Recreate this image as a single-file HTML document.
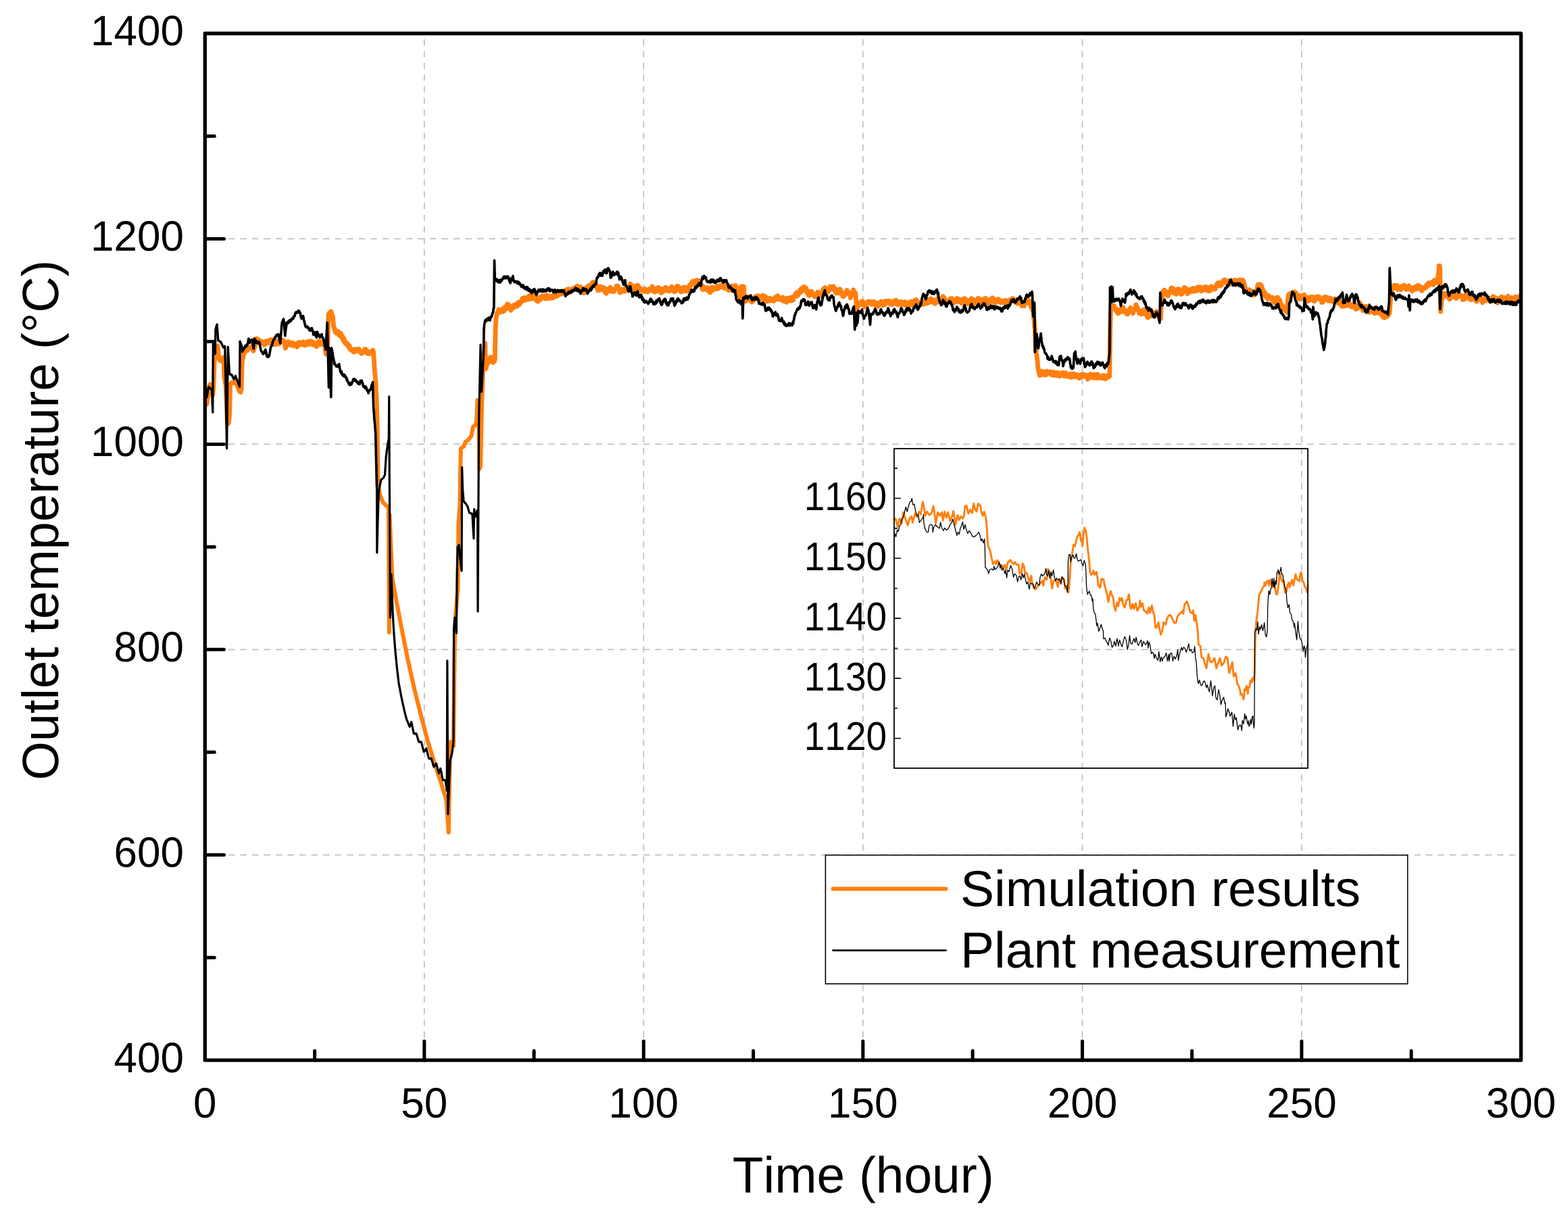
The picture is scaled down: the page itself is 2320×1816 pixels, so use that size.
<!DOCTYPE html>
<html lang="en"><head><meta charset="utf-8"><title>Outlet temperature: simulation results vs plant measurement</title>
<style>html,body{margin:0;padding:0;background:#fff}body{width:2320px;height:1816px;overflow:hidden}svg{display:block}</style>
</head><body>
<svg width="2320" height="1816" viewBox="0 0 2320 1816" font-family="'Liberation Sans', Arial, sans-serif" style="font-kerning:none" text-rendering="geometricPrecision">
<rect width="2320" height="1816" fill="#fff"/>
<path d="M627.8 1569.5V49.5M952.3 1569.5V49.5M1276.8 1569.5V49.5M1601.4 1569.5V49.5M1925.9 1569.5V49.5" fill="none" stroke="#bfbfbf" stroke-width="1.7" stroke-dasharray="8.15 9.119" stroke-linecap="round"/>
<path d="M303.3 1265.3H2250.4M303.3 961.3H2250.4M303.3 657.4H2250.4M303.3 353.4H2250.4" fill="none" stroke="#bfbfbf" stroke-width="1.7" stroke-dasharray="8.15 9.395" stroke-linecap="round"/>
<clipPath id="plotclip"><rect x="303.3" y="49.5" width="1947.1" height="1519.7"/></clipPath>
<g clip-path="url(#plotclip)"><path d="M303.7 599.1L304.2 598.0L304.7 599.5L305.1 599.0L305.6 597.6L306.1 598.0L306.7 594.2L307.2 591.1L307.8 587.8L308.4 582.5L308.9 577.9L309.5 575.4L310.0 570.0L310.6 570.6L311.1 568.6L311.7 569.5L312.2 572.5L312.8 573.8L313.4 577.9L313.9 580.8L314.5 581.6L315.0 584.6L315.6 578.0L316.1 571.2L317.3 536.8L317.8 532.5L318.4 528.1L318.9 524.6L319.5 519.6L320.0 516.1L320.6 515.5L321.1 514.5L321.7 512.8L322.3 511.6L322.8 517.2L323.4 523.3L323.9 527.4L324.5 531.2L325.0 533.3L325.6 532.9L326.2 533.3L326.7 532.4L327.3 534.6L327.8 533.4L328.4 530.7L328.9 530.2L329.5 530.2L330.1 529.3L330.6 528.9L331.7 559.0L332.3 561.6L332.8 565.4L333.4 567.8L333.9 569.7L335.3 603.5L336.2 628.0L336.7 627.7L337.3 627.8L337.8 627.2L338.4 625.8L338.9 622.3L339.4 617.2L339.8 614.0L340.8 567.9L341.4 568.4L341.9 567.2L342.4 566.3L343.0 566.9L343.5 567.0L344.0 566.7L344.5 565.7L345.1 565.5L345.6 565.9L346.2 566.6L346.7 566.2L347.3 566.0L347.9 566.4L348.4 565.4L349.0 565.6L349.5 567.3L350.1 569.4L350.6 570.0L351.2 571.0L351.7 571.9L352.3 574.2L352.9 576.9L353.4 577.3L354.0 577.8L354.5 579.5L355.1 578.2" fill="none" stroke="#ff7f0e" stroke-width="6.4" stroke-linejoin="round" stroke-linecap="round"/>
<path d="M355.1 578.2L355.6 579.0L356.1 580.6L356.6 577.9L357.1 576.6L358.2 536.8L358.8 531.9L359.3 529.8L359.9 528.3L360.4 519.7L361.0 523.0L361.6 522.5L362.2 522.1L362.8 520.6L363.4 520.2L364.0 517.9L364.5 517.9L365.1 516.9L365.7 514.7L366.2 518.7L366.8 516.8L367.3 514.6L367.9 515.9L368.4 515.5L369.0 514.6L369.6 514.3L370.1 515.0L370.7 515.2L371.2 515.5L371.8 515.1L372.3 513.3L372.9 514.8L373.4 514.9L374.0 517.5L374.6 519.3L375.1 519.4L375.7 517.6L376.2 515.9L376.8 511.1L377.3 512.4L377.9 509.7L378.5 504.8L379.0 502.7L379.6 500.9L380.1 505.0L380.7 502.6L381.2 502.2L381.8 505.1L382.3 504.0L382.9 502.8L383.5 503.6L384.0 505.7L384.6 504.2L385.1 505.1L385.7 507.7L386.2 506.7L386.8 506.4L387.4 507.5L387.9 505.5L388.5 507.7L389.0 508.2L389.6 507.3L390.1 506.7L390.7 510.6L391.3 508.3L391.8 506.5L392.4 508.4L392.9 509.3L393.5 504.9L394.0 504.7L394.6 505.1L395.1 507.9L395.7 504.7L396.3 507.2L396.8 506.8L397.4 505.8L397.9 503.9L398.5 507.5L399.0 506.3L399.6 504.6L400.2 502.8L400.7 504.7L401.3 503.1L401.8 503.8L402.4 503.0L402.9 505.2L403.5 502.8L404.0 504.6L404.6 508.6L405.2 508.7L405.7 506.3L406.3 509.7L406.8 506.7L407.4 509.9L407.9 508.8L408.5 507.0L409.1 506.0L409.6 504.6L410.2 509.0L410.7 504.5L411.3 508.5L411.8 509.1L412.4 506.8L412.9 504.5L413.5 507.8L414.1 508.1L414.6 506.4L415.2 505.1L415.7 504.1L416.3 503.7L416.8 503.2L417.4 506.0L418.0 505.0L418.5 504.0L419.1 503.8L419.6 507.0L420.2 505.4L420.7 506.7L421.3 508.0L421.8 513.1L422.4 515.5L423.0 513.1L423.5 511.8L424.1 510.3L424.6 511.5L425.2 508.2L425.7 506.1L426.3 505.6L426.9 508.2L427.4 509.2L428.0 509.9L428.5 507.0L429.1 510.0L429.6 509.2L430.2 508.3L430.8 511.1L431.3 507.4L431.9 510.1L432.5 507.0L433.1 507.6L433.7 511.6L434.3 508.1L434.9 511.1L435.5 510.5L436.1 511.9L436.7 509.6L437.3 509.7L437.9 509.6L438.5 512.7L439.1 511.5L439.7 513.5L440.1 512.5L440.5 507.9L440.9 509.4L441.4 506.9L442.0 506.5L442.6 506.5L443.2 510.5L443.8 510.0L444.4 510.1L445.0 507.5L445.5 508.8L446.1 509.5L446.7 507.3L447.3 508.4L447.9 506.7L448.5 506.1L449.1 507.2L449.6 510.6L450.2 509.0L450.8 511.0L451.4 508.7L452.0 507.8L452.6 510.6L453.2 510.6L453.7 506.1L454.3 509.3L454.9 506.0L455.5 505.9L456.1 509.7L456.7 505.1L457.3 505.9L457.8 509.5L458.4 506.4L459.0 504.9L459.6 505.3L460.2 505.8L460.8 508.5L461.4 505.3L461.9 509.6L462.5 507.0L463.1 510.1L463.7 509.9L464.3 506.9L464.9 507.2L465.5 509.0L466.0 507.6L466.6 511.1L467.2 508.5L467.8 508.9L468.4 513.1L469.0 508.6L469.6 509.3L470.1 507.7L470.7 506.8L471.3 505.4L471.9 509.7L472.5 509.9L473.1 509.8L473.7 505.2L474.2 505.6L474.8 507.6L475.4 509.4L476.0 507.0L476.6 508.2L477.2 508.6L477.8 507.0L478.3 509.0L478.9 508.3L479.5 508.5L480.1 508.1L480.7 512.4L481.3 519.2L481.9 519.7L482.4 524.0L483.0 520.7L483.6 519.0L484.2 512.9L484.8 509.3L486.0 465.8L486.5 464.2L487.1 463.5L487.7 465.6L488.3 465.1L488.9 461.4L489.5 460.9L490.1 461.3L490.6 463.8L491.2 466.3L491.8 466.8L492.4 468.0L493.0 476.1L493.6 482.3L494.2 486.2L494.7 485.2L495.3 486.7L495.9 491.1L496.5 489.6L497.1 492.5L497.7 491.2L498.3 493.4L498.8 490.0L499.4 492.1L500.0 493.9L500.6 490.5L501.2 495.5L501.8 491.9L502.3 495.5L502.9 497.0L503.5 496.6L504.1 494.4L504.7 493.7L505.3 496.3L505.9 499.6L506.4 497.5L507.0 501.8L507.6 499.0L508.2 504.2L508.8 500.8L509.4 503.1L510.0 506.9L510.5 507.2L511.1 508.5L511.7 508.9L512.3 509.2L512.9 509.7L513.5 507.8L514.1 509.9L514.6 509.3L515.2 513.0L515.8 513.5L516.4 511.9L517.0 511.5L517.6 516.8L518.2 516.6L518.7 515.8L519.3 516.3L519.9 518.5L520.5 517.1L521.1 517.3L521.7 517.6L522.3 517.8L522.8 517.2L523.4 521.0L524.0 520.4L524.6 520.7L525.2 517.7L525.8 518.7L526.4 517.2L526.9 516.7L527.5 516.9L528.1 519.5L528.7 516.8L529.3 517.2L529.9 518.8L530.5 517.2L531.0 516.5L531.6 519.7L532.2 519.9L532.8 521.2L533.4 520.5L534.0 522.4L534.6 523.2L535.1 521.2L535.7 523.1L536.3 522.1L536.9 519.8L537.5 519.8L538.1 519.6L538.7 520.4L539.2 519.5L539.8 516.7L540.4 519.2L541.0 516.7L541.6 517.4L542.2 520.3L542.8 522.8L543.3 519.2L543.9 522.5L544.5 523.3L545.1 520.4L545.7 522.6L546.3 523.5L546.9 521.2L547.4 523.0L548.0 522.9L548.6 521.9L549.2 523.0L549.8 522.9L550.4 522.9L551.0 520.6L551.5 518.3L552.1 518.4L552.6 522.9L553.1 529.4L553.5 535.0L554.5 551.3L554.9 553.3L555.4 561.0L555.9 565.6L556.3 568.8" fill="none" stroke="#ff7f0e" stroke-width="6.8" stroke-linejoin="round" stroke-linecap="round"/>
<path d="M556.3 568.8L557.3 586.4L558.2 615.7L558.7 640.1L559.4 718.0L559.9 720.7L560.5 723.3L561.0 726.0L561.5 728.7L562.1 731.3L562.6 734.0L563.2 735.4L563.8 736.7L564.4 738.1L564.9 739.5L565.5 740.9L566.1 742.2L566.7 743.6L567.3 744.1L567.8 744.7L568.4 745.2L568.9 745.8L569.5 746.3L570.1 746.8L570.6 747.4L571.2 747.9L571.7 748.5L572.3 749.0L572.8 749.3L573.4 749.6L573.9 750.0L574.5 750.3L575.0 750.6L575.8 936.0L576.6 762.0L578.0 800.0L580.4 855.0L581.0 858.1L581.5 861.2L582.1 864.3L582.6 867.4L583.2 870.5L583.7 873.7L584.3 876.8L584.8 879.9L585.4 883.0L585.9 886.1L586.5 889.2L587.1 892.2L587.6 895.2L588.2 898.3L588.8 901.3L589.3 904.3L589.9 907.3L590.5 910.4L591.1 913.4L591.6 916.4L592.2 919.4L592.8 922.5L593.3 925.5L593.9 928.5L594.5 931.4L595.1 934.3L595.6 937.2L596.2 940.1L596.8 943.0L597.4 945.9L597.9 948.8L598.5 951.7L599.1 954.5L599.7 957.4L600.2 960.3L600.8 963.2L601.4 966.1L602.0 969.0L602.5 971.9L603.1 974.8L603.7 977.7L604.3 980.3L604.9 982.9L605.4 985.5L606.0 988.1L606.6 990.7L607.2 993.3L607.8 995.9L608.4 998.5L608.9 1001.1L609.5 1003.7L610.1 1006.3L610.7 1008.9L611.3 1011.5L611.9 1014.1L612.4 1016.7L613.0 1019.3L613.6 1021.9L614.2 1024.2L614.8 1026.5L615.3 1028.8L615.9 1031.1L616.5 1033.5L617.1 1035.8L617.6 1038.1L618.2 1040.4L618.8 1042.7L619.4 1045.0L619.9 1047.3L620.5 1049.6L621.1 1052.0L621.7 1054.3L622.2 1056.6L622.8 1058.9L623.4 1061.2L624.0 1063.4L624.6 1065.5L625.1 1067.7L625.7 1069.9L626.3 1072.1L626.9 1074.2L627.4 1076.4L628.0 1078.6L628.6 1080.7L629.2 1082.9L629.7 1085.1L630.3 1087.2L630.9 1089.4L631.5 1091.6L632.0 1093.8L632.6 1095.9L633.2 1098.1L633.8 1100.0L634.4 1101.9L634.9 1103.7L635.5 1105.6L636.1 1107.5L636.7 1109.4L637.3 1111.3L637.9 1113.2L638.4 1115.0L639.0 1116.9L639.6 1118.8L640.2 1120.7L640.8 1122.6L641.4 1124.5L641.9 1126.3L642.5 1128.2L643.1 1130.1L643.7 1131.8L644.3 1133.6L644.8 1135.3L645.4 1137.0L646.0 1138.8L646.6 1140.5L647.1 1142.2L647.7 1144.0L648.3 1145.7L648.9 1147.5L649.4 1149.2L650.0 1150.9L650.6 1152.7L651.2 1154.4L651.7 1156.1L652.3 1157.9L652.9 1159.6L653.5 1161.5L654.0 1163.4L654.6 1165.3L655.2 1167.1L655.7 1169.0L656.3 1170.9L656.9 1172.8L657.5 1174.7L658.0 1176.6L658.6 1178.4L659.2 1180.3L659.7 1182.2L660.3 1184.1L660.9 1192.1L661.5 1200.1L662.0 1208.0L662.6 1216.0L663.2 1224.0L663.8 1232.0L665.2 1150.0L666.9 1098.0L667.5 1098.9L668.1 1099.7L668.7 1100.6L669.2 1101.4L669.8 1102.3L670.4 1103.1L671.0 1104.0L672.0 1010.0L672.6 963.0L673.8 913.7L674.3 907.5L674.9 901.2L675.4 895.0L675.9 888.7L676.4 882.5L677.0 876.2L677.5 870.0L678.4 774.5L678.9 767.5L679.5 760.5L680.0 753.4L680.5 746.4L681.2 690.0L681.9 663.6L682.4 663.2L683.0 662.9L683.5 662.5L684.0 662.2L684.5 661.8L685.0 661.4L685.6 661.1L686.1 660.7L686.7 659.3L687.2 657.9L687.8 656.5L688.3 655.1L688.9 653.7L689.4 653.4L690.0 653.0L690.5 652.6L691.0 652.3L691.5 652.0L692.0 651.6L692.6 651.2L693.1 650.9L693.7 650.1L694.3 649.3L694.9 648.5L695.5 647.7L696.1 646.9L696.7 646.1L697.3 645.3L697.9 642.5L698.5 639.7L699.0 636.8L699.6 634.0L700.2 631.2L700.8 630.9L701.3 630.6L701.9 630.4L702.4 630.1L703.0 629.8L703.5 628.6L704.0 627.4L704.5 626.2L705.0 625.0L706.5 592.0L707.0 594.7L707.5 597.3L708.0 600.0L709.5 694.0L710.0 692.7L710.5 691.3L711.0 690.0L713.0 600.0L715.5 532.0" fill="none" stroke="#ff7f0e" stroke-width="6.0" stroke-linejoin="round" stroke-linecap="round"/>
<path d="M715.5 532.0L716.1 528.2L716.6 519.5L717.2 518.6L717.8 508.2L718.6 546.0L719.1 542.4L719.7 543.9L720.2 538.8L720.8 539.2L721.3 536.2L721.9 536.6L722.4 537.2L722.9 537.0L723.5 531.3L724.0 530.7L724.6 534.6L725.1 529.3L725.7 530.0L726.2 528.5L726.8 529.0L727.3 529.2L727.8 533.4L728.4 534.7L728.9 535.0L729.5 536.6L730.0 536.2L730.6 533.5L731.2 533.7L731.7 534.6L732.3 531.5L733.1 486.5L733.6 478.0L734.1 469.8L734.6 467.8L735.1 465.0L735.6 462.8L736.1 463.6L736.6 462.5L737.1 461.6L737.6 458.1L738.2 459.7L738.7 459.9L739.3 458.5L739.8 462.3L740.4 459.5L740.9 460.8L741.5 460.9L742.1 461.0L742.6 460.7L743.2 460.7L743.7 457.7L744.3 461.5L744.9 456.4L745.4 460.4L746.0 459.7L746.6 459.3L747.1 454.3L747.7 454.1L748.3 457.9L748.8 455.2L749.3 453.8L749.8 456.6L750.3 450.4L750.8 452.5L751.3 451.2L751.9 450.1L752.5 452.5L753.0 455.0L753.6 456.8L754.2 452.6L754.7 456.2L755.3 454.5L755.9 459.4L756.5 454.7L757.0 453.8L757.6 455.2L758.2 456.7L758.7 453.7L759.3 452.1L759.9 455.3L760.5 454.8L761.0 454.8L761.6 451.4L762.1 451.8L762.7 450.5L763.2 452.0L763.8 450.4L764.3 450.2L764.9 452.5L765.4 453.2L766.0 450.8L766.5 447.7L767.1 450.3L767.7 448.6L768.2 451.2L768.8 449.1L769.3 449.2L769.9 447.9L770.4 446.3L771.0 447.9L771.5 447.0L772.1 443.3L772.6 441.9L773.2 443.0L773.7 443.8L774.3 441.2L774.8 442.5L775.4 443.7L776.0 440.4L776.5 444.8L777.1 443.7L777.6 441.6L778.2 441.4L778.7 441.6L779.3 441.1L779.8 443.3L780.4 441.6L780.9 441.4L781.5 439.0L782.0 443.1L782.6 439.5L783.1 439.2L783.7 437.4L784.3 442.4L784.8 439.2L785.4 441.8L785.9 441.8L786.5 442.1L787.0 441.2L787.6 441.8L788.1 441.8L788.7 441.1L789.2 437.2L789.8 439.5L790.3 439.8L790.9 442.2L791.5 441.6L792.0 441.7L792.6 442.5L793.2 440.8L793.8 444.8L794.3 443.6L794.9 442.8L795.5 443.7L796.0 446.3L796.6 443.4L797.2 440.9L797.7 440.4L798.3 443.1L798.9 442.0L799.5 443.6L800.0 439.1L800.6 440.3L801.1 442.1L801.7 438.1L802.2 438.3L802.8 440.8L803.4 439.1L803.9 438.1L804.5 438.9L805.0 441.0L805.6 440.3L806.1 437.7L806.7 437.6L807.2 442.0L807.8 440.7L808.3 438.0L808.9 441.9L809.4 436.9L810.0 438.9L810.5 441.6L811.1 440.7L811.7 438.2L812.2 441.6L812.8 439.8L813.4 441.2L814.0 441.3L814.5 438.5L815.1 439.8L815.7 438.9L816.3 441.1L816.9 440.2L817.5 439.6L818.1 440.0L818.6 441.0L819.2 436.5L819.8 436.1L820.4 439.0L821.0 438.9L821.6 437.2L822.2 436.8L822.7 436.1L823.3 438.7L823.9 437.9L824.5 436.5L825.1 433.1L825.7 437.5L826.3 435.0L826.8 433.2L827.4 433.6L828.0 435.6L828.6 431.2L829.2 431.5L829.8 432.2L830.4 435.3L830.9 434.1L831.5 435.1L832.1 432.2L832.7 432.1L833.3 431.6L833.9 431.1L834.5 430.8L835.0 432.1L835.6 432.8L836.2 429.6L836.8 430.8L837.4 428.9L838.0 428.8L838.6 429.9L839.1 430.3L839.7 430.0L840.3 432.5L840.9 427.7L841.5 430.4L842.1 432.4L842.6 430.8L843.2 429.6L843.8 428.2L844.4 428.2L845.0 431.1L845.6 430.6L846.2 429.0L846.7 430.1L847.3 430.1L847.9 429.4L848.5 426.4L849.1 426.7L849.7 428.4L850.3 425.7L850.8 427.8L851.4 426.2L852.0 425.3L852.6 426.0L853.1 424.0L853.7 425.3L854.3 425.6L854.8 423.3L855.4 424.1L856.0 424.6L856.6 428.0L857.1 426.4L857.7 424.6L858.3 428.7L858.9 424.3L859.4 425.8L860.0 427.1L860.5 427.5L861.1 426.8L861.6 429.5L862.2 428.6L862.7 430.7L863.2 430.1L863.8 433.6L864.3 432.9L864.9 428.7L865.4 428.3L866.0 432.5L866.5 427.6L867.1 425.8L867.6 426.6L868.2 427.3L868.7 429.4L869.3 425.6L869.8 427.1L870.4 427.4L870.9 422.7L871.5 425.3L872.0 427.2L872.6 424.2L873.1 423.8L873.7 422.3L874.2 425.4L874.8 425.1L875.3 419.6L875.9 421.7L876.4 420.4L877.0 421.4L877.5 417.7L878.1 418.1L878.6 417.6L879.2 418.3L879.7 421.1L880.3 422.4L880.8 422.9L881.4 423.2L881.9 420.8L882.5 423.5L883.0 426.0L883.6 424.7L884.1 426.7L884.7 429.9L885.2 426.1L885.8 429.9L886.3 425.0L886.9 426.0L887.4 428.5L888.0 423.9L888.5 425.2L889.1 424.8L889.6 427.8L890.2 428.7L890.7 424.9L891.3 426.4L891.8 429.0L892.4 427.2L892.9 425.6L893.5 429.3L894.0 427.4L894.6 428.8L895.1 426.6L895.7 432.8L896.2 431.5L896.8 433.6L897.3 434.4L897.9 429.9L898.4 431.0L899.0 430.0L899.5 431.4L900.1 431.4L900.6 427.4L901.2 427.3L901.7 429.3L902.3 427.2L902.8 425.1L903.4 425.9L903.9 428.5L904.5 429.1L905.0 431.6L905.6 429.6L906.1 430.5L906.7 428.2L907.2 430.2L907.8 429.8L908.4 431.5L908.9 428.3L909.5 427.3L910.0 427.5L910.6 427.4L911.1 425.9L911.7 426.7L912.2 423.5L912.8 426.9L913.3 425.1L913.9 425.1L914.4 423.3L915.0 425.9L915.5 429.0L916.1 429.7L916.6 431.6L917.2 433.1L917.7 430.7L918.3 432.7L918.8 431.4L919.4 429.8L919.9 429.4L920.5 429.7L921.0 428.3L921.6 430.5L922.1 431.0L922.7 429.8L923.2 430.4L923.8 427.6L924.3 427.4L924.9 429.4L925.4 431.1L926.0 428.3L926.5 425.8L927.1 425.8L927.6 427.3L928.2 429.0L928.7 425.3L929.3 425.4L929.8 427.3L930.4 428.4L930.9 424.0L931.5 424.8L932.0 423.6L932.6 420.1L933.1 422.3L933.7 421.6L934.2 422.7L934.8 426.2L935.3 426.1L935.9 422.8L936.4 423.5L937.0 427.7L937.5 424.5L938.1 426.2L938.6 425.5L939.2 423.9L939.7 423.4L940.3 423.6L940.8 424.7L941.4 427.5L941.9 425.4L942.5 422.7L943.0 424.8L943.6 422.1L944.1 424.0L944.7 423.4L945.2 427.5L945.8 424.5L946.3 427.6L946.9 427.2L947.4 428.9L948.0 428.0L948.5 430.0L949.1 427.8L949.6 429.5L950.2 429.3L950.7 428.9L951.3 429.3L951.8 429.2L952.4 428.6L952.9 431.6L953.5 430.2L954.0 430.0L954.6 427.5L955.1 430.4L955.7 428.8L956.2 429.3L956.8 430.9L957.3 431.9L957.9 430.5L958.4 430.9L959.0 431.8L959.5 430.9L960.1 430.0L960.6 427.7L961.2 428.7L961.7 429.8L962.3 428.6L962.8 428.1L963.4 429.2L963.9 428.0L964.5 427.2L965.1 424.0L965.6 426.1L966.2 428.9L966.7 426.4L967.3 431.3L967.8 427.4L968.4 432.2L968.9 428.9L969.5 432.2L970.0 431.9L970.6 428.6L971.1 431.5L971.7 426.9L972.2 430.6L972.8 427.6L973.3 427.6L973.9 425.4L974.4 427.8L975.0 426.5L975.5 429.3L976.1 430.6L976.6 430.1L977.2 427.1L977.7 433.2L978.3 433.5L978.8 432.5L979.4 430.4L979.9 430.9L980.5 432.2L981.0 429.2L981.6 430.5L982.1 428.9L982.7 427.3L983.2 429.8L983.8 426.2L984.3 427.8L984.9 425.1L985.4 428.0L986.0 426.0L986.5 430.3L987.1 426.7L987.6 427.5L988.2 428.4L988.7 429.0L989.3 430.4L989.8 428.8L990.4 427.5L990.9 430.9L991.5 429.7L992.0 427.5L992.6 427.6L993.1 426.9L993.7 424.1L994.2 427.9L994.8 425.2L995.3 427.6L995.9 427.0L996.4 426.4L997.0 430.5L997.5 431.9L998.1 428.9L998.6 431.6L999.2 427.9L999.7 429.1L1000.3 430.4L1000.8 428.5L1001.4 423.8L1001.9 425.3L1002.5 424.4L1003.0 423.3L1003.6 427.0L1004.1 425.5L1004.7 427.7L1005.2 428.0L1005.8 428.0L1006.3 426.0L1006.9 430.2L1007.4 432.1L1008.0 428.7L1008.5 431.0L1009.1 429.6L1009.6 428.3L1010.2 430.1L1010.7 431.2L1011.3 425.2L1011.8 429.9L1012.4 426.5L1012.9 428.6L1013.5 425.2L1014.0 428.6L1014.6 425.4L1015.1 427.1L1015.7 431.1L1016.2 429.7L1016.8 430.8L1017.3 429.2L1017.9 428.2L1018.4 427.2L1019.0 427.7L1019.5 426.3L1020.1 422.2L1020.6 422.5L1021.2 422.0L1021.7 421.1L1022.3 422.8L1022.9 422.1L1023.4 417.8L1024.0 418.8L1024.5 417.0L1025.1 416.2L1025.6 416.2L1026.2 416.6L1026.7 419.9L1027.3 419.2L1027.8 419.8L1028.4 416.8L1028.9 415.9L1029.5 420.5L1030.0 419.6L1030.6 420.2L1031.1 414.7L1031.7 416.7L1032.2 418.3L1032.8 419.0L1033.3 420.1L1033.9 418.1L1034.4 417.4L1035.0 415.3L1035.5 420.1L1036.1 421.2L1036.6 422.1L1037.2 422.0L1037.7 421.4L1038.3 422.1L1038.8 426.5L1039.4 428.7L1039.9 428.7L1040.5 424.0L1041.0 426.3L1041.6 425.8L1042.1 425.2L1042.7 427.2L1043.2 427.9L1043.8 426.6L1044.3 426.3L1044.9 426.2L1045.4 426.7L1046.0 426.7L1046.5 425.8L1047.1 429.6L1047.6 426.5L1048.2 430.3L1048.7 429.5L1049.3 431.3L1049.8 432.5L1050.4 430.7L1050.9 432.9L1051.5 427.8L1052.0 425.7L1052.6 430.4L1053.1 425.8L1053.7 424.9L1054.2 425.8L1054.8 426.9L1055.3 429.3L1055.9 427.8L1056.4 425.6L1057.0 427.0L1057.5 426.6L1058.1 427.0L1058.6 426.7L1059.2 425.3L1059.7 426.3L1060.3 425.9L1060.8 424.5L1061.4 427.8L1061.9 424.8L1062.5 423.2L1063.0 425.3L1063.6 426.6L1064.1 425.9L1064.7 424.7L1065.2 425.4L1065.8 423.2L1066.3 422.2L1066.9 423.0L1067.4 423.6L1068.0 423.3L1068.5 424.5L1069.1 422.8L1069.6 422.8L1070.2 423.6L1070.7 423.1L1071.3 426.5L1071.8 424.9L1072.4 422.7L1072.9 423.9L1073.5 426.4L1074.0 424.5L1074.6 424.3L1075.1 424.0L1075.7 423.6L1076.2 426.7L1076.8 424.2L1077.3 429.0L1077.9 425.5L1078.4 430.2L1079.0 428.8L1079.5 428.9L1080.0 426.7L1080.6 423.8L1081.1 426.0L1081.7 423.1L1082.2 423.9L1082.8 424.5L1083.3 423.8L1083.9 425.9L1084.4 427.7L1085.0 424.0L1085.5 426.7L1086.1 423.1L1086.6 425.8L1087.2 423.7L1087.7 424.7L1088.3 422.6L1088.8 427.3L1089.4 424.2L1089.9 426.1L1090.5 425.6L1091.0 429.0L1091.6 430.5L1092.1 433.4L1092.7 437.0L1093.2 436.8L1093.8 435.7L1094.3 440.2L1094.9 437.2L1095.4 440.1L1096.0 440.9L1096.5 433.0L1097.1 423.8L1097.6 428.2L1098.2 426.9L1098.7 424.7L1099.3 424.5L1099.8 426.2L1100.4 424.0L1100.9 433.3L1101.5 436.9L1102.0 442.3L1102.6 441.4L1103.1 446.2L1103.7 441.4L1104.2 444.5L1104.8 441.5L1105.3 439.8L1105.9 440.2L1106.4 440.4L1107.0 443.4L1107.5 440.9L1108.1 441.8L1108.6 442.9L1109.2 441.2L1109.7 443.7L1110.3 444.2L1110.8 446.0L1111.4 443.9L1111.9 446.3L1112.5 447.2L1113.0 446.4L1113.6 444.0L1114.1 442.7L1114.7 441.3L1115.2 445.1L1115.8 440.7L1116.3 442.7L1116.9 441.7L1117.4 438.9L1118.0 439.4L1118.5 442.3L1119.1 440.1L1119.6 441.8L1120.2 442.0L1120.7 437.6L1121.3 441.2L1121.8 437.8L1122.4 440.3L1122.9 440.7L1123.5 443.9L1124.0 442.1L1124.6 439.5L1125.1 441.1L1125.7 440.9L1126.2 438.7L1126.8 439.4L1127.3 442.1L1127.9 442.4L1128.4 441.0L1129.0 437.0L1129.5 442.1L1130.1 439.7L1130.6 442.0L1131.2 438.4L1131.7 438.4L1132.3 443.4L1132.8 440.3L1133.4 439.5L1133.9 442.7L1134.5 446.1L1135.0 445.7L1135.6 442.9L1136.1 446.1L1136.7 444.7L1137.2 444.6L1137.8 443.2L1138.4 441.5L1138.9 444.2L1139.5 441.4L1140.0 444.5L1140.6 442.7L1141.1 445.2L1141.7 443.1L1142.2 443.2L1142.8 444.6L1143.3 443.4L1143.9 442.8L1144.4 444.7L1145.0 445.5L1145.5 441.5L1146.1 444.2L1146.6 443.1L1147.2 442.3L1147.7 439.6L1148.3 442.3L1148.8 441.3L1149.4 440.3L1149.9 437.9L1150.5 440.9L1151.0 437.9L1151.6 443.3L1152.1 440.3L1152.7 440.8L1153.2 442.0L1153.8 442.6L1154.3 442.4L1154.9 441.9L1155.4 442.9L1156.0 444.2L1156.5 442.0L1157.1 442.4L1157.6 444.4L1158.2 439.8L1158.7 441.0L1159.3 442.2L1159.8 441.8L1160.4 446.1L1160.9 442.0L1161.5 442.0L1162.0 443.5L1162.6 444.9L1163.1 446.5L1163.7 447.3L1164.2 446.2L1164.8 444.6L1165.3 441.1L1165.9 441.0L1166.4 444.1L1167.0 445.0L1167.5 441.5L1168.1 445.4L1168.6 443.0L1169.2 443.1L1169.7 443.4L1170.3 440.2L1170.8 440.8L1171.4 445.2L1171.9 441.3L1172.5 440.2L1173.0 441.4L1173.6 444.0L1174.1 440.2L1174.7 438.8L1175.2 438.1L1175.8 438.1L1176.3 438.5L1176.9 434.9L1177.4 438.1L1178.0 438.5L1178.5 437.5L1179.1 433.0L1179.6 434.3L1180.2 437.7L1180.7 437.2L1181.3 432.8L1181.8 433.9L1182.4 432.8L1182.9 434.3L1183.5 429.5L1184.0 430.4L1184.6 432.3L1185.1 432.4L1185.7 426.8L1186.2 429.4L1186.8 429.3L1187.3 430.0L1187.9 426.8L1188.4 429.4L1189.0 424.4L1189.5 424.3L1190.1 424.8L1190.6 427.9L1191.2 425.6L1191.7 426.9L1192.3 426.9L1192.8 426.5L1193.4 432.1L1193.9 429.4L1194.5 434.0L1195.1 433.5L1195.6 431.5L1196.2 436.5L1196.7 432.1L1197.3 437.6L1197.8 432.0L1198.4 433.1L1198.9 434.7L1199.5 431.4L1200.0 435.7L1200.6 431.6L1201.1 435.7L1201.7 431.7L1202.2 435.1L1202.8 433.8L1203.3 434.8L1203.9 436.6L1204.4 436.4L1205.0 437.1L1205.5 439.1L1206.1 436.1L1206.6 435.6L1207.2 438.1L1207.7 435.4L1208.3 438.7L1208.8 435.4L1209.4 435.2L1209.9 432.2L1210.5 432.5L1211.0 433.2L1211.6 436.5L1212.1 437.0L1212.7 439.0L1213.2 436.2L1213.8 438.1L1214.3 436.3L1214.9 433.2L1215.4 433.8L1216.0 433.9L1216.5 433.1L1217.1 432.4L1217.6 430.3L1218.2 428.2L1218.7 427.5L1219.3 426.7L1219.8 426.0L1220.4 426.6L1220.9 425.5L1221.5 428.2L1222.0 427.0L1222.6 428.2L1223.1 431.4L1223.7 431.6L1224.2 431.8L1224.8 431.3L1225.3 432.1L1225.9 430.2L1226.4 427.5L1227.0 427.1L1227.5 428.1L1228.1 424.2L1228.6 425.9L1229.2 428.2L1229.7 424.2L1230.3 425.3L1230.8 426.6L1231.4 427.7L1231.9 426.2L1232.5 425.6L1233.0 424.0L1233.6 424.1L1234.1 426.7L1234.7 426.3L1235.2 430.2L1235.8 427.0L1236.3 432.6L1236.9 433.9L1237.4 432.7L1238.0 430.6L1238.5 432.0L1239.1 433.1L1239.6 433.8L1240.2 433.8L1240.7 429.5L1241.3 428.3L1241.8 428.1L1242.4 432.7L1242.9 430.3L1243.5 428.2L1244.0 432.3L1244.6 434.8L1245.1 433.6L1245.7 432.3L1246.2 437.4L1246.8 436.8L1247.3 434.7L1247.9 438.9L1248.4 438.3L1249.0 437.9L1249.5 435.9L1250.1 434.8L1250.6 434.7L1251.2 434.6L1251.7 433.4L1252.3 435.0L1252.9 429.6L1253.4 429.6L1254.0 433.1L1254.5 432.1L1255.1 433.2L1255.6 434.2L1256.2 432.9L1256.7 434.8L1257.3 434.7L1257.8 435.3L1258.4 441.1L1258.9 438.8L1259.5 438.8L1260.0 432.9L1260.6 436.1L1261.1 433.0L1261.7 433.3L1262.2 433.5L1262.8 428.9L1263.3 431.5L1263.9 433.1L1264.4 435.5L1265.0 433.9L1265.5 433.3L1266.1 435.6L1267.2 458.1L1267.7 457.5L1268.3 454.7L1268.8 455.1L1269.4 452.4L1269.9 449.7L1270.5 450.4L1271.0 448.0L1271.6 449.2L1272.1 449.0L1272.7 450.8L1273.2 449.8L1273.8 449.5L1274.3 450.5L1274.9 446.0L1275.4 446.3L1276.0 446.1L1276.5 446.0L1277.1 449.0L1277.6 449.6L1278.2 448.0L1278.7 453.2L1279.3 454.1L1279.8 449.5L1280.4 449.7L1280.9 449.5L1281.5 452.8L1282.0 453.0L1282.6 447.9L1283.1 447.0L1283.7 449.5L1284.2 448.2L1284.8 446.2L1285.3 446.0L1285.9 447.0L1286.4 446.8L1287.0 447.3L1287.5 448.6L1288.1 446.7L1288.6 446.7L1289.2 446.7L1289.7 450.7L1290.3 447.1L1290.8 449.0L1291.4 448.6L1291.9 448.0L1292.5 448.5L1293.0 446.4L1293.6 447.4L1294.1 450.3L1294.7 451.2L1295.2 448.3L1295.8 448.3L1296.3 452.7L1296.9 448.3L1297.4 452.5L1298.0 453.2L1298.5 449.2L1299.1 453.4L1299.6 449.1L1300.2 448.2L1300.7 449.2L1301.3 449.2L1301.8 450.3L1302.4 449.2L1302.9 450.9L1303.5 449.8L1304.0 446.3L1304.6 446.4L1305.1 450.0L1305.7 446.8L1306.2 452.0L1306.8 451.6L1307.3 448.6L1307.9 449.4L1308.4 449.6L1309.0 451.0L1309.5 448.5L1310.0 445.7L1310.6 446.5L1311.1 445.7L1311.7 446.2L1312.2 446.3L1312.8 448.3L1313.3 446.5L1313.9 445.8L1314.4 447.7L1315.0 445.5L1315.5 446.2L1316.1 445.6L1316.6 449.5L1317.2 450.3L1317.7 450.9L1318.3 449.7L1318.8 447.3L1319.4 446.7L1319.9 450.5L1320.5 450.6L1321.0 448.2L1321.6 450.1L1322.1 449.7L1322.7 448.3L1323.2 445.7L1323.8 445.8L1324.3 444.8L1324.9 445.6L1325.4 446.5L1326.0 444.3L1326.5 445.5L1327.1 446.2L1327.6 449.0L1328.2 451.2L1328.7 450.8L1329.3 447.4L1329.8 449.1L1330.4 450.0L1330.9 447.0L1331.5 446.6L1332.0 449.5L1332.6 447.2L1333.1 449.5L1333.7 446.6L1334.2 450.5L1334.8 447.4L1335.3 448.2L1335.9 449.0L1336.4 451.0L1337.0 451.3L1337.5 451.0L1338.1 450.2L1338.6 446.7L1339.2 447.5L1339.7 449.6L1340.3 452.3L1340.8 450.9L1341.4 447.7L1341.9 448.6L1342.5 452.1L1343.0 449.4L1343.6 451.4L1344.1 451.3L1344.7 450.8L1345.2 449.8L1345.8 450.0L1346.3 448.1L1346.9 446.7L1347.4 451.5L1348.0 446.1L1348.5 447.4L1349.1 449.3L1349.6 451.3L1350.2 446.8L1350.7 447.0L1351.3 450.2L1351.8 446.9L1352.4 447.1L1352.9 446.5L1353.5 444.5L1354.0 449.4L1354.6 447.7L1355.1 443.4L1355.7 444.3L1356.2 445.0L1356.8 446.7L1357.3 450.2L1357.9 446.2L1358.4 447.1L1359.0 448.0L1359.5 449.6L1360.1 451.8L1360.6 449.6L1361.2 451.6L1361.7 449.3L1362.3 448.6L1362.8 451.0L1363.4 449.2L1363.9 448.5L1364.5 448.6L1365.0 447.6L1365.6 448.2L1366.1 446.2L1366.7 447.1L1367.2 450.5L1367.8 447.0L1368.4 447.6L1368.9 447.5L1369.5 448.7L1370.0 446.4L1370.6 447.6L1371.1 448.5L1371.7 448.4L1372.2 448.9L1372.8 443.8L1373.3 446.5L1373.9 443.4L1374.4 443.7L1375.0 444.5L1375.5 446.2L1376.1 445.4L1376.6 447.4L1377.2 442.0L1377.7 443.9L1378.3 445.0L1378.8 442.7L1379.4 443.1L1379.9 445.2L1380.5 446.6L1381.0 444.4L1381.6 444.3L1382.1 446.0L1382.7 448.7L1383.2 447.3L1383.8 449.4L1384.3 446.7L1384.9 448.0L1385.4 445.7L1386.0 444.8L1386.5 444.0L1387.1 441.6L1387.6 441.6L1388.2 445.2L1388.7 446.5L1389.3 441.8L1389.8 442.9L1390.4 443.9L1390.9 443.9L1391.5 447.1L1392.0 443.2L1392.6 442.9L1393.1 443.4L1393.7 445.6L1394.2 441.2L1394.8 442.6L1395.3 438.7L1395.9 440.3L1396.4 443.8L1397.0 440.2L1397.5 441.6L1398.1 443.8L1398.6 443.9L1399.2 444.5L1399.7 445.2L1400.3 446.2L1400.8 444.7L1401.4 445.4L1401.9 445.3L1402.5 445.7L1403.0 445.6L1403.6 447.1L1404.1 444.0L1404.7 444.0L1405.2 445.9L1405.8 446.3L1406.3 441.8L1406.9 444.3L1407.4 441.9L1408.0 445.2L1408.5 441.6L1409.1 444.7L1409.6 445.5L1410.2 446.7L1410.7 448.4L1411.3 448.2L1411.8 447.3L1412.4 447.3L1412.9 444.0L1413.5 446.7L1414.0 446.2L1414.6 446.8L1415.1 443.0L1415.7 444.9L1416.2 441.3L1416.8 444.7L1417.3 444.8L1417.9 443.1L1418.4 445.0L1419.0 445.3L1419.5 443.8L1420.1 443.0L1420.6 447.4L1421.2 445.5L1421.7 444.9L1422.3 447.0L1422.8 448.9L1423.4 449.2L1423.9 446.6L1424.5 448.6L1425.1 443.6L1425.6 445.1L1426.2 441.9L1426.7 442.9L1427.3 446.2L1427.8 441.8L1428.4 445.7L1428.9 445.2L1429.5 448.3L1430.0 448.7L1430.6 444.1L1431.1 445.2L1431.7 449.8L1432.2 446.4L1432.8 445.1L1433.3 448.9L1433.9 446.7L1434.4 444.5L1435.0 445.5L1435.5 444.4L1436.1 444.1L1436.6 444.2L1437.2 441.6L1437.7 444.6L1438.3 447.0L1438.8 445.3L1439.4 446.9L1439.9 444.4L1440.5 444.1L1441.0 443.6L1441.6 449.7L1442.1 445.1L1442.7 446.3L1443.2 447.5L1443.8 447.5L1444.3 446.5L1444.9 445.1L1445.4 446.9L1446.0 444.3L1446.5 446.2L1447.1 441.3L1447.6 444.8L1448.2 441.6L1448.7 443.7L1449.3 444.4L1449.8 443.4L1450.4 445.3L1450.9 448.1L1451.5 443.8L1452.0 445.1L1452.6 450.1L1453.1 446.6L1453.7 445.7L1454.2 448.3L1454.8 447.0L1455.3 443.0L1455.9 445.0L1456.4 442.1L1457.0 445.0L1457.5 443.3L1458.1 445.1L1458.6 441.3L1459.2 446.7L1459.7 443.1L1460.3 447.2L1460.8 445.2L1461.4 448.3L1461.9 444.1L1462.5 444.3L1463.0 447.2L1463.6 449.3L1464.1 446.0L1464.7 445.7L1465.2 443.2L1465.8 444.8L1466.3 443.6L1466.9 445.7L1467.4 444.3L1468.0 442.3L1468.5 440.8L1469.1 441.2L1469.6 446.4L1470.2 444.7L1470.7 442.9L1471.3 446.8L1471.8 443.7L1472.4 445.5L1472.9 448.4L1473.5 443.8L1474.0 443.7L1474.6 443.3L1475.1 443.7L1475.7 444.9L1476.2 444.5L1476.8 444.1L1477.3 442.4L1477.9 445.1L1478.4 445.1L1479.0 447.0L1479.5 444.7L1480.1 446.6L1480.6 445.3L1481.2 448.1L1481.7 445.0L1482.3 447.0L1482.9 447.0L1483.4 446.8L1484.0 447.0L1484.5 446.7L1485.1 445.2L1485.6 447.8L1486.2 448.3L1486.7 445.8L1487.3 445.9L1487.8 446.7L1488.4 444.6L1488.9 446.5L1489.5 446.0L1490.0 446.4L1490.6 446.2L1491.1 447.3L1491.7 445.7L1492.3 445.4L1492.9 444.7L1493.4 446.5L1494.0 444.0L1494.6 446.7L1495.2 446.9L1495.8 445.6L1496.4 442.7L1497.0 445.8L1497.6 441.9L1498.2 441.5L1498.8 442.4L1499.4 443.4L1499.9 442.5L1500.5 445.3L1501.0 446.3L1501.6 443.7L1502.1 443.9L1502.7 445.5L1503.2 447.9L1503.8 448.3L1504.3 445.3L1504.9 446.4L1505.4 449.3L1506.0 449.5L1506.5 447.3L1507.1 448.1L1507.6 448.3L1508.2 444.6L1508.7 444.4L1509.3 448.2L1509.8 447.6L1510.4 450.1L1510.9 448.3L1511.5 449.8L1512.0 452.7L1512.6 449.2L1513.1 451.7L1513.7 450.8L1514.2 452.1L1514.8 452.3L1515.3 452.8L1515.9 450.5L1516.4 446.0L1517.0 446.7L1517.5 446.3L1518.1 445.9L1518.6 446.4L1519.2 448.2L1519.7 448.1L1520.3 444.0L1520.8 443.8L1521.4 448.7L1521.9 444.1L1522.5 449.0L1523.0 445.1L1523.6 448.9L1524.1 447.4L1524.7 448.5L1525.2 450.8L1525.8 454.5L1526.3 455.9L1526.9 455.5L1527.4 456.2L1528.0 459.4L1528.5 460.1L1529.1 462.3L1529.6 469.9L1530.2 475.9L1530.7 484.5L1531.3 485.7L1532.4 515.6L1532.9 519.9L1533.5 524.2L1534.0 525.9L1534.6 531.3L1535.1 535.0L1535.7 544.3L1536.2 546.1L1536.8 549.4L1537.3 552.3L1537.9 553.2L1538.4 555.8L1539.0 555.4L1539.5 551.3L1540.0 554.3L1540.6 549.2L1541.1 553.3L1541.7 549.6L1542.2 554.2L1542.8 550.7L1543.3 554.3L1543.9 554.5L1544.4 554.4L1545.0 550.7L1545.5 552.5L1546.1 550.5L1546.6 553.9L1547.2 555.2L1547.7 552.3L1548.3 552.8L1548.8 552.7L1549.4 549.4L1549.9 550.5L1550.5 550.2L1551.0 552.3L1551.6 550.6L1552.1 550.7L1552.7 552.1L1553.2 550.4L1553.8 550.0L1554.3 551.3L1554.9 550.4L1555.4 554.5L1556.0 553.6L1556.5 554.8L1557.1 554.4L1557.6 551.3L1558.2 555.6L1558.7 555.5L1559.3 550.7L1559.8 553.1L1560.4 555.0L1560.9 552.8L1561.5 555.2L1562.0 554.2L1562.6 554.1L1563.1 555.8L1563.7 555.2L1564.2 554.3L1564.8 551.3L1565.3 553.9L1565.9 555.4L1566.4 554.6L1567.0 555.2L1567.5 554.0L1568.1 557.0L1568.6 553.8L1569.2 555.9L1569.7 554.6L1570.3 552.8L1570.8 551.9L1571.4 552.4L1571.9 553.2L1572.5 554.1L1573.0 551.4L1573.6 551.6L1574.1 555.9L1574.7 556.9L1575.2 553.7L1575.8 554.0L1576.3 554.7L1576.9 551.8L1577.4 554.4L1578.0 555.1L1578.5 556.7L1579.1 555.2L1579.6 554.8L1580.2 554.3L1580.7 557.4L1581.3 555.4L1581.8 555.3L1582.4 557.0L1582.9 555.5L1583.5 553.6L1584.0 556.9L1584.6 558.3L1585.1 555.4L1585.7 553.7L1586.2 553.6L1586.8 558.1L1587.3 553.4L1587.9 556.5L1588.4 553.1L1589.0 555.4L1589.5 557.6L1590.1 554.0L1590.6 554.7L1591.2 556.7L1591.7 556.8L1592.3 557.0L1592.8 556.3L1593.4 554.5L1593.9 558.0L1594.5 556.0L1595.0 557.9L1595.6 556.7L1596.1 555.7L1596.7 559.8L1597.2 555.7L1597.8 559.4L1598.4 556.4L1598.9 556.6L1599.5 555.0L1600.0 554.3L1600.6 557.3L1601.1 555.7L1601.7 556.4L1602.2 553.9L1602.8 555.7L1603.3 556.5L1603.9 557.0L1604.4 556.3L1605.0 554.7L1605.5 556.7L1606.1 556.6L1606.6 556.3L1607.2 557.6L1607.7 556.2L1608.3 555.2L1608.8 556.1L1609.4 561.3L1609.9 560.5L1610.5 559.8L1611.0 556.2L1611.6 559.2L1612.1 558.6L1612.7 556.8L1613.2 555.1L1613.8 553.6L1614.3 558.5L1614.9 558.1L1615.4 557.5L1616.0 555.4L1616.5 557.2L1617.1 558.5L1617.6 556.6L1618.2 554.4L1618.7 559.5L1619.3 557.2L1619.8 558.8L1620.4 558.1L1620.9 554.8L1621.5 557.0L1622.0 554.3L1622.6 555.6L1623.1 559.6L1623.7 557.9L1624.2 557.0L1624.8 554.3L1625.3 557.5L1625.9 556.9L1626.4 557.4L1627.0 558.0L1627.5 559.6L1628.1 557.1L1628.6 558.4L1629.2 558.2L1629.7 558.8L1630.3 559.6L1630.8 556.7L1631.4 556.0L1631.9 556.3L1632.5 555.9L1633.0 558.9L1633.6 557.4L1634.1 560.2L1634.7 556.6L1635.2 556.5L1635.8 560.7L1636.3 556.2L1636.9 557.7L1637.4 559.6L1638.0 558.9L1638.5 557.2L1639.1 556.4L1639.6 558.1L1640.2 555.3L1640.7 558.0L1641.3 553.7L1641.8 556.6L1642.4 499.1L1643.5 455.0L1644.0 452.1L1644.6 455.3L1645.1 453.2L1645.7 454.2L1646.2 453.8L1646.8 455.7L1647.3 452.5L1647.9 456.2L1648.4 452.3L1649.0 456.2L1649.5 457.7L1650.1 455.7L1650.6 458.9L1651.2 456.7L1651.7 457.4L1652.3 461.3L1652.8 462.4L1653.4 462.0L1653.9 459.4L1654.5 464.2L1655.1 460.5L1655.6 463.0L1656.2 459.4L1656.7 458.4L1657.3 458.2L1657.8 460.3L1658.4 461.5L1658.9 458.5L1659.5 455.9L1660.0 459.1L1660.6 460.1L1661.1 459.2L1661.7 454.5L1662.2 456.2L1662.8 459.5L1663.3 459.7L1663.9 462.1L1664.4 462.2L1665.0 462.3L1665.5 462.3L1666.1 461.2L1666.6 459.8L1667.2 464.8L1667.7 463.6L1668.3 465.1L1668.8 460.1L1669.4 463.4L1669.9 461.4L1670.5 462.0L1671.0 460.1L1671.6 457.7L1672.1 457.3L1672.7 455.5L1673.2 456.9L1673.8 459.3L1674.3 457.6L1674.9 459.2L1675.4 461.4L1676.0 461.7L1676.5 463.9L1677.1 460.2L1677.6 459.8L1678.2 457.9L1678.7 458.7L1679.3 456.9L1679.8 457.6L1680.4 451.9L1680.9 450.7L1681.5 452.7L1682.0 455.7L1682.6 457.0L1683.1 455.5L1683.7 457.0L1684.2 460.0L1684.8 459.2L1685.3 463.6L1685.9 459.5L1686.4 463.6L1687.0 460.1L1687.5 463.4L1688.1 464.0L1688.6 465.1L1689.2 464.9L1689.7 460.0L1690.3 463.1L1690.8 464.0L1691.4 462.7L1691.9 460.3L1692.5 461.5L1693.0 458.2L1693.6 462.1L1694.1 460.7L1694.7 464.8L1695.2 460.2L1695.8 464.3L1696.3 462.6L1696.9 467.2L1697.4 469.2L1698.0 467.3L1698.5 470.2L1699.1 466.3L1699.6 464.7L1700.2 468.8L1700.7 466.1L1701.3 463.8L1701.8 466.8L1702.4 467.7L1702.9 462.5L1703.5 465.9L1704.0 464.6L1704.6 463.1L1705.1 463.6L1705.7 463.7L1706.2 465.5L1706.8 465.8L1707.3 467.4L1707.9 467.2L1708.4 467.8L1709.0 467.2L1709.5 462.5L1710.1 464.5L1710.6 465.2L1711.2 460.9L1711.7 462.3L1712.3 465.6L1712.9 464.6L1713.4 466.1L1714.0 465.0L1714.5 470.0L1715.1 470.2L1715.6 468.1L1716.2 468.8L1716.7 467.9L1717.3 471.5L1718.4 444.0L1718.9 443.5L1719.5 440.2L1720.0 433.7L1720.6 431.5L1721.1 430.6L1721.7 430.8L1722.2 430.0L1722.8 429.3L1723.3 431.1L1723.9 433.8L1724.4 434.1L1725.0 433.4L1725.5 432.2L1726.1 436.3L1726.6 432.8L1727.2 432.4L1727.7 434.1L1728.3 438.0L1728.8 436.6L1729.4 433.5L1729.9 432.1L1730.5 433.6L1731.0 432.0L1731.6 432.8L1732.1 429.9L1732.7 426.9L1733.2 425.9L1733.8 426.0L1734.3 428.3L1734.9 430.1L1735.4 429.8L1736.0 427.3L1736.5 433.5L1737.1 431.2L1737.6 432.4L1738.2 431.0L1738.7 432.0L1739.3 432.5L1739.8 434.2L1740.4 435.4L1740.9 431.1L1741.5 431.1L1742.0 430.1L1742.6 428.1L1743.1 427.4L1743.7 431.4L1744.2 433.0L1744.8 428.2L1745.3 428.9L1745.9 431.7L1746.4 431.3L1747.0 431.6L1747.5 435.7L1748.1 432.3L1748.6 431.6L1749.2 435.0L1749.7 432.6L1750.3 432.3L1750.8 431.4L1751.4 427.0L1751.9 431.8L1752.5 425.5L1753.0 425.9L1753.6 428.0L1754.1 430.7L1754.7 432.0L1755.2 427.1L1755.8 428.5L1756.3 428.4L1756.9 429.7L1757.4 434.8L1758.0 430.6L1758.5 432.8L1759.1 430.4L1759.6 428.9L1760.2 430.0L1760.7 429.4L1761.3 430.6L1761.8 432.1L1762.4 429.7L1762.9 429.3L1763.5 427.3L1764.0 426.9L1764.6 428.7L1765.1 428.3L1765.7 431.4L1766.2 427.5L1766.8 426.5L1767.3 426.8L1767.9 428.4L1768.4 428.0L1769.0 429.1L1769.5 431.0L1770.0 429.3L1770.6 428.3L1771.1 429.6L1771.7 429.7L1772.2 424.9L1772.8 428.3L1773.3 425.0L1773.9 426.5L1774.4 426.2L1775.0 425.8L1775.5 424.7L1776.1 425.9L1776.6 429.1L1777.2 430.9L1777.7 430.9L1778.3 426.0L1778.8 429.4L1779.4 427.0L1779.9 428.6L1780.5 428.4L1781.0 426.0L1781.6 425.3L1782.1 427.3L1782.7 424.5L1783.2 428.8L1783.8 429.3L1784.3 424.5L1784.9 429.2L1785.4 429.7L1786.0 425.3L1786.5 428.7L1787.1 428.2L1787.6 426.7L1788.2 430.7L1788.7 429.4L1789.3 430.4L1789.8 430.7L1790.4 430.5L1790.9 428.3L1791.5 429.1L1792.0 424.0L1792.6 425.2L1793.1 425.6L1793.7 425.8L1794.2 425.0L1794.8 427.6L1795.3 426.2L1795.9 427.7L1796.4 425.4L1797.0 428.3L1797.5 424.9L1798.1 428.0L1798.6 425.0L1799.2 423.4L1799.7 424.2L1800.3 420.7L1800.8 423.5L1801.4 422.5L1801.9 423.1L1802.5 418.7L1803.0 420.6L1803.6 421.4L1804.1 418.2L1804.7 422.2L1805.2 422.8L1805.8 421.1L1806.3 421.8L1806.9 422.3L1807.4 419.0L1808.0 418.8L1808.5 420.5L1809.1 418.8L1809.6 416.0L1810.2 417.3L1810.7 417.9L1811.3 417.8L1811.8 413.9L1812.4 414.4L1812.9 417.6L1813.5 418.1L1814.0 418.4L1814.6 417.2L1815.1 416.9L1815.7 420.5L1816.2 416.6L1816.8 416.9L1817.3 415.5L1817.9 416.0L1818.4 419.3L1819.0 419.7L1819.5 417.2L1820.1 420.4L1820.6 417.2L1821.2 417.8L1821.7 418.8L1822.3 419.1L1822.8 416.7L1823.4 418.2L1823.9 415.7L1824.5 417.0L1825.0 418.2L1825.6 416.9L1826.1 417.1L1826.7 419.4L1827.2 414.4L1827.8 414.6L1828.4 414.9L1828.9 416.7L1829.5 418.2L1830.0 418.6L1830.6 418.9L1831.1 415.0L1831.7 419.9L1832.2 416.2L1832.8 420.3L1833.3 416.7L1833.9 419.5L1834.4 418.4L1835.0 414.2L1835.5 416.7L1836.1 415.8L1836.6 419.0L1837.2 414.3L1837.7 415.8L1838.3 415.0L1838.8 414.6L1839.4 418.3L1839.9 419.3L1840.5 417.2L1841.0 423.0L1841.6 421.4L1842.1 427.4L1842.7 427.8L1843.2 430.1L1843.8 427.6L1844.3 430.5L1844.9 429.6L1845.4 430.8L1846.0 429.6L1846.5 430.4L1847.1 429.2L1847.6 429.7L1848.2 433.3L1848.7 428.6L1849.3 433.2L1849.8 433.0L1850.4 429.8L1850.9 431.7L1851.5 434.3L1852.0 432.7L1852.6 432.9L1853.1 433.2L1853.7 431.5L1854.2 436.4L1854.8 435.2L1855.3 432.6L1855.9 433.1L1856.4 435.3L1857.0 436.4L1857.5 434.7L1858.1 433.3L1858.6 431.2L1859.2 429.8L1859.7 429.4L1860.3 425.8L1860.8 422.7L1861.4 421.2L1861.9 424.6L1862.5 422.0L1863.0 425.2L1863.6 420.8L1864.1 425.3L1864.7 424.8L1865.2 422.3L1865.8 421.6L1866.3 426.9L1866.9 423.5L1867.4 425.4L1868.0 428.4L1868.5 428.8L1869.1 430.0L1869.6 433.5L1870.2 434.9L1870.7 436.5L1871.3 433.1L1871.8 433.9L1872.4 437.1L1872.9 439.5L1873.5 437.3L1874.0 439.6L1874.6 437.0L1875.1 441.7L1875.7 441.7L1876.2 442.2L1876.8 439.1L1877.3 437.5L1877.9 441.9L1878.4 440.0L1879.0 439.7L1879.5 440.5L1880.1 442.4L1880.6 442.7L1881.2 441.3L1881.7 440.6L1882.3 440.2L1882.8 440.1L1883.4 445.8L1883.9 446.2L1884.5 441.4L1885.1 444.9L1885.6 447.5L1886.2 445.6L1886.7 448.3L1887.3 442.8L1887.8 445.4L1888.4 445.3L1888.9 440.4L1889.5 440.2L1890.0 443.7L1890.6 440.2L1891.1 442.9L1891.7 445.2L1892.2 444.6L1892.8 445.5L1893.3 443.3L1893.9 448.7L1894.4 446.8L1895.0 450.5L1895.5 453.2L1896.1 454.7L1896.6 451.1L1897.2 451.6L1897.7 453.6L1898.3 452.6L1898.8 457.3L1899.4 454.9L1899.9 456.0L1900.5 455.6L1901.0 458.6L1901.6 459.6L1902.1 460.0L1902.7 455.8L1903.2 459.4L1903.8 460.9L1904.3 462.3L1904.9 453.6L1905.4 446.5L1906.0 438.2L1906.5 436.3L1907.1 435.5L1907.6 436.1L1908.2 437.8L1908.7 435.1L1909.3 435.7L1909.8 434.0L1910.4 438.0L1910.9 437.5L1911.5 433.6L1912.0 434.1L1912.6 432.4L1913.1 433.9L1913.7 433.0L1914.2 435.9L1914.8 433.5L1915.3 435.6L1915.9 431.8L1916.4 435.7L1917.0 435.3L1917.5 433.3L1918.1 436.1L1918.6 436.7L1919.2 437.7L1919.7 437.3L1920.3 436.7L1920.8 438.3L1921.4 440.2L1921.9 438.4L1922.5 442.5L1923.0 442.8L1923.6 442.0L1924.1 442.1L1924.7 437.7L1925.2 441.9L1925.8 439.5L1926.3 440.6L1926.9 440.1L1927.4 438.5L1928.0 440.3L1928.5 441.0L1929.1 441.8L1929.6 436.1L1930.2 441.4L1930.7 440.5L1931.3 440.2L1931.8 441.8L1932.4 440.1L1932.9 441.1L1933.5 439.7L1934.0 445.6L1934.6 445.5L1935.1 444.5L1935.7 444.7L1936.2 445.4L1936.8 441.2L1937.3 443.1L1937.9 443.5L1938.4 442.3L1939.0 444.1L1939.5 439.5L1940.1 441.5L1940.6 441.7L1941.2 439.8L1941.7 443.4L1942.3 440.8L1942.9 439.6L1943.4 440.2L1944.0 441.9L1944.5 445.8L1945.1 445.8L1945.6 444.9L1946.2 442.8L1946.7 441.2L1947.3 441.2L1947.8 440.3L1948.4 441.6L1948.9 438.7L1949.5 439.1L1950.0 441.4L1950.6 442.2L1951.1 442.2L1951.7 439.2L1952.2 442.7L1952.8 441.4L1953.3 442.2L1953.9 442.9L1954.4 442.2L1955.0 443.7L1955.5 447.7L1956.1 447.7L1956.6 443.1L1957.2 447.4L1957.7 443.9L1958.3 445.1L1958.8 440.2L1959.4 439.8L1959.9 444.1L1960.5 439.9L1961.0 439.6L1961.6 443.2L1962.1 439.6L1962.7 441.8L1963.2 444.1L1963.8 440.0L1964.3 444.4L1964.9 444.9L1965.4 445.4L1966.0 443.5L1966.5 444.8L1967.1 441.1L1967.6 443.6L1968.2 445.5L1968.7 445.6L1969.3 441.7L1969.8 445.7L1970.4 443.3L1970.9 444.1L1971.5 445.9L1972.0 445.3L1972.6 443.4L1973.1 446.7L1973.7 447.2L1974.2 446.7L1974.8 442.4L1975.3 442.3L1975.9 445.7L1976.4 443.1L1977.0 443.2L1977.5 447.8L1978.1 443.2L1978.6 444.7L1979.2 445.0L1979.7 448.7L1980.3 449.0L1980.8 448.2L1981.4 446.4L1981.9 445.0L1982.5 450.4L1983.0 446.7L1983.6 449.7L1984.1 451.0L1984.7 450.0L1985.2 452.7L1985.8 453.6L1986.3 450.5L1986.9 452.6L1987.4 449.3L1988.0 451.4L1988.5 453.0L1989.1 450.9L1989.6 451.0L1990.2 452.8L1990.7 449.2L1991.3 453.0L1991.8 448.0L1992.4 448.1L1992.9 449.9L1993.5 447.3L1994.0 451.4L1994.6 449.1L1995.1 448.3L1995.7 452.0L1996.2 451.2L1996.8 452.9L1997.3 450.5L1997.9 450.7L1998.4 451.9L1998.9 453.1L1999.5 451.1L2000.0 451.0L2000.6 454.3L2001.2 450.4L2001.8 450.6L2002.4 453.3L2003.0 453.6L2003.6 451.9L2004.2 449.6L2004.8 454.6L2005.4 452.1L2006.0 457.6L2006.6 456.0L2007.1 457.0L2007.7 457.1L2008.3 454.2L2008.9 456.1L2009.5 455.8L2010.1 453.7L2010.7 453.2L2011.3 448.4L2011.9 447.8L2012.5 452.1L2013.1 450.2L2013.7 453.7L2014.3 453.7L2014.9 452.3L2015.5 453.8L2016.1 458.9L2016.7 459.8L2017.3 457.7L2017.9 454.1L2018.5 453.8L2019.1 458.8L2019.7 457.7L2020.3 456.8L2020.9 454.0L2021.4 457.5L2022.0 453.4L2022.6 457.8L2023.2 458.6L2023.8 457.5L2024.4 460.9L2025.0 458.1L2025.6 462.4L2026.2 462.1L2026.8 458.5L2027.4 458.3L2028.0 460.8L2028.6 458.1L2029.2 459.3L2029.8 459.8L2030.4 461.7L2031.0 461.0L2031.6 458.7L2032.2 459.6L2032.8 458.4L2033.4 463.1L2034.0 463.8L2034.6 460.6L2035.2 461.8L2035.7 460.8L2036.3 460.1L2036.9 458.3L2037.5 461.3L2038.1 463.1L2038.7 458.3L2039.3 461.3L2039.9 462.0L2040.5 461.3L2041.1 463.7L2041.7 461.8L2042.3 463.5L2042.9 460.9L2043.5 462.0L2044.1 465.1L2044.7 467.2L2045.3 465.7L2045.9 468.9L2046.5 467.0L2047.1 467.1L2047.7 469.8L2048.3 470.5L2048.9 470.2L2049.5 468.7L2050.0 466.0L2050.6 466.3L2051.2 467.6L2051.8 464.5L2052.4 465.8L2053.0 468.3L2053.6 464.8L2054.2 466.7L2054.8 464.3L2055.4 462.9L2056.0 463.7L2056.6 454.9L2057.2 445.9L2057.8 437.3L2058.4 436.9L2059.0 430.9L2059.6 426.5L2060.2 424.7L2060.8 424.4L2061.4 426.9L2062.0 423.7L2062.6 422.2L2063.2 423.2L2063.8 424.4L2064.3 425.5L2064.9 425.3L2065.5 423.8L2066.1 422.3L2066.7 426.9L2067.3 422.5L2067.9 426.1L2068.5 428.8L2069.1 425.4L2069.7 426.8L2070.3 425.8L2070.9 426.6L2071.5 425.0L2072.1 428.2L2072.7 428.9L2073.3 424.9L2073.9 423.7L2074.5 424.4L2075.1 424.5L2075.7 424.3L2076.3 425.3L2076.9 424.5L2077.5 422.0L2078.1 422.2L2078.6 425.0L2079.2 423.7L2079.8 427.7L2080.4 427.6L2081.0 428.3L2081.6 427.0L2082.2 424.5L2082.8 427.7L2083.4 424.7L2084.0 423.8L2084.6 422.9L2085.2 424.8L2085.8 427.9L2086.4 426.8L2087.0 427.1L2087.6 425.9L2088.2 426.7L2088.8 429.9L2089.4 430.9L2090.0 427.5L2090.6 429.4L2091.2 428.4L2091.8 426.3L2092.3 427.6L2092.9 424.7L2093.5 428.4L2094.1 425.6L2094.7 426.6L2095.3 426.9L2095.9 423.6L2096.5 427.6L2097.1 427.6L2097.7 424.5L2098.3 422.0L2098.9 425.1L2099.5 425.1L2100.1 423.2L2100.7 427.1L2101.3 424.9L2101.9 425.4L2102.5 425.1L2103.1 428.9L2103.7 430.4L2104.3 429.9L2104.9 427.5L2105.5 427.3L2106.1 425.7L2106.6 426.3L2107.2 426.6L2107.8 426.1L2108.4 425.0L2109.0 426.3L2109.6 423.3L2110.2 425.3L2110.8 421.6L2111.4 423.0L2112.0 420.6L2112.6 420.4L2113.2 422.9L2113.8 418.7L2114.4 422.2L2115.0 421.0L2115.6 420.2L2116.2 419.7L2116.8 421.0L2117.4 418.3L2118.0 419.6L2118.6 417.5L2119.2 417.7L2119.8 419.5L2120.4 420.0L2120.9 421.5L2121.5 420.1L2122.1 415.0L2122.7 419.4L2123.3 416.2L2123.9 416.2L2124.4 414.5L2125.0 414.0L2125.6 415.9L2126.1 416.3L2126.7 418.0L2127.3 416.7L2127.7 408.8L2128.2 405.9L2128.7 402.0L2129.2 393.5L2129.7 393.7L2130.2 393.5L2130.7 397.7L2131.6 461.1L2132.1 453.3L2132.6 450.5L2133.2 443.3L2133.7 439.7L2134.3 438.2L2134.8 436.3L2135.4 439.8L2136.0 437.7L2136.6 434.4L2137.1 435.4L2137.7 434.8L2138.3 435.5L2138.8 434.3L2139.4 436.9L2140.0 437.1L2140.6 436.3L2141.2 436.1L2141.8 438.7L2142.4 437.7L2143.0 440.4L2143.6 441.5L2144.2 441.1L2144.8 442.9L2145.4 439.6L2146.0 442.2L2146.6 438.9L2147.2 440.8L2147.8 438.8L2148.4 436.2L2149.0 435.4L2149.5 438.1L2150.1 436.3L2150.7 434.8L2151.3 437.7L2151.9 435.5L2152.5 435.5L2153.1 437.0L2153.7 440.4L2154.3 437.5L2154.9 441.7L2155.5 436.5L2156.1 437.8L2156.7 435.4L2157.3 438.9L2157.9 438.0L2158.5 438.6L2159.1 438.3L2159.7 438.4L2160.3 436.2L2160.9 436.6L2161.5 438.6L2162.1 438.6L2162.7 437.6L2163.3 439.6L2163.8 440.0L2164.4 443.6L2165.0 439.6L2165.6 442.8L2166.2 442.1L2166.8 442.8L2167.4 440.3L2168.0 440.5L2168.6 436.6L2169.2 440.4L2169.8 435.2L2170.4 437.8L2171.0 435.7L2171.6 437.1L2172.2 440.5L2172.8 439.5L2173.4 442.0L2174.0 440.1L2174.6 440.1L2175.2 442.3L2175.8 442.6L2176.4 443.8L2177.0 443.5L2177.6 440.1L2178.1 442.8L2178.7 440.0L2179.3 437.2L2179.9 438.4L2180.5 440.2L2181.1 441.4L2181.7 438.4L2182.3 444.1L2182.9 442.5L2183.5 440.0L2184.1 442.4L2184.7 446.3L2185.3 441.3L2185.9 442.4L2186.5 444.1L2187.1 440.4L2187.7 443.4L2188.3 442.2L2188.9 439.9L2189.5 442.6L2190.1 439.1L2190.7 440.5L2191.3 444.6L2191.8 444.4L2192.4 442.9L2193.0 444.6L2193.6 448.0L2194.2 444.9L2194.8 443.6L2195.4 445.6L2196.0 443.2L2196.6 445.4L2197.2 442.3L2197.8 441.4L2198.4 443.2L2199.0 444.7L2199.6 441.7L2200.2 443.5L2200.8 444.2L2201.4 443.4L2202.0 443.0L2202.6 442.4L2203.2 441.3L2203.8 444.5L2204.4 443.1L2205.0 446.0L2205.6 444.5L2206.1 444.6L2206.7 444.0L2207.3 443.3L2207.9 444.7L2208.5 441.9L2209.1 438.7L2209.7 442.5L2210.3 441.0L2210.9 439.5L2211.5 440.6L2212.1 442.0L2212.7 441.6L2213.3 443.9L2213.9 446.5L2214.5 441.6L2215.1 447.3L2215.7 448.4L2216.3 447.2L2216.9 444.4L2217.5 445.1L2218.1 443.5L2218.7 442.4L2219.3 440.7L2219.9 440.5L2220.4 441.6L2221.0 440.0L2221.6 439.1L2222.2 441.9L2222.8 440.6L2223.4 444.3L2224.0 440.4L2224.6 441.8L2225.2 443.4L2225.8 442.7L2226.4 445.9L2227.0 443.4L2227.6 440.5L2228.2 440.9L2228.8 443.3L2229.4 440.6L2230.0 440.1L2230.6 439.1L2231.2 438.4L2231.8 443.2L2232.4 441.1L2233.0 441.1L2233.6 440.7L2234.2 443.5L2234.7 445.3L2235.3 447.0L2235.9 446.4L2236.5 440.7L2237.1 443.0L2237.7 442.5L2238.3 442.4L2238.9 441.3L2239.5 443.7L2240.1 441.3L2240.7 440.7L2241.3 444.0L2241.9 441.7L2242.5 439.0L2243.1 442.9L2243.7 445.1L2244.3 443.5L2244.9 441.2L2245.5 445.1L2246.1 439.9L2246.7 444.0L2247.3 439.3L2247.9 442.8L2248.5 438.3L2249.0 437.6L2249.6 437.6L2250.2 438.4" fill="none" stroke="#ff7f0e" stroke-width="6.8" stroke-linejoin="round" stroke-linecap="round"/>
<path d="M304.5 586.8L305.0 587.9L305.6 588.3L306.1 587.2L306.7 583.4L307.2 580.7L307.8 576.6L308.4 572.6L308.9 572.6L309.5 573.7L310.0 574.2L310.6 574.7L311.1 574.6L311.7 575.6L312.2 575.9L312.8 576.8L313.4 577.6L314.8 610.2L315.3 508.9L315.7 510.2L316.1 510.1L316.7 513.6L317.3 516.9L317.8 520.2L318.4 523.8L318.9 487.8L319.5 485.7L320.0 483.3L320.6 481.4L321.1 480.1L321.7 487.8L322.3 496.2L322.8 504.1L323.4 503.9L323.9 504.6L324.5 504.5L325.0 505.3L325.6 506.2L326.2 505.9L326.7 505.9L327.3 507.9L327.8 508.6L328.4 509.3L328.9 511.0L329.5 512.1L330.1 513.6L330.6 514.3L331.2 514.7L331.7 514.1L332.3 512.3L332.8 512.7L333.9 564.6L335.6 663.6L337.3 513.4L339.5 553.5L340.1 554.0L340.6 553.8L341.2 554.1L341.7 554.2L342.3 555.1L342.8 554.6L343.4 556.2L344.0 556.6L344.5 558.5L345.1 559.7L345.6 560.1L346.2 561.4L346.7 560.8L347.3 559.4L347.9 557.9L348.4 556.3L349.0 557.8L349.5 559.7L350.1 560.2L350.6 562.6L351.2 562.9L351.7 565.2L352.3 565.8L352.9 568.4L353.4 569.6L354.0 570.8L354.5 572.4L355.1 505.6" fill="none" stroke="#000" stroke-width="3.3" stroke-linejoin="round" stroke-linecap="round"/>
<path d="M355.1 505.6L355.6 507.8L356.2 509.2L356.8 510.0L357.3 511.3L357.9 515.7L358.4 520.3L359.0 518.6L359.5 516.1L360.1 517.8L360.7 516.7L361.2 516.6L361.8 513.5L362.3 514.7L362.9 512.0L363.4 513.3L364.0 511.6L364.5 510.9L365.1 512.4L365.7 509.4L366.2 510.1L366.8 508.6L367.3 504.0L367.9 501.3L368.4 505.0L369.0 505.0L369.6 507.4L370.1 504.7L370.7 505.2L371.2 504.0L371.8 505.0L372.3 502.6L372.9 504.8L373.4 505.2L374.0 510.8L374.6 511.9L375.1 516.0L375.7 510.5L376.2 501.2L376.8 502.0L377.3 504.4L377.9 504.1L378.5 503.8L379.0 507.5L379.6 505.6L380.1 505.4L380.7 506.5L381.2 507.5L381.8 508.1L382.3 506.2L382.9 507.0L383.5 506.2L384.0 507.7L384.6 511.2L385.1 513.6L385.7 516.6L386.2 518.7L386.8 520.1L387.4 520.7L387.9 521.1L388.5 521.4L389.0 523.9L389.6 523.9L390.1 522.1L390.7 522.1L391.3 522.4L391.8 518.9L392.4 519.2L392.9 517.5L393.5 520.4L394.0 521.7L394.6 526.8L395.1 527.1L395.7 528.2L396.3 527.6L396.8 526.3L397.4 528.0L397.9 526.7L398.5 526.4L399.0 522.8L399.6 519.5L400.2 515.7L400.7 513.8L401.3 512.1L401.8 512.3L402.4 510.8L402.9 509.6L403.5 505.9L404.0 505.2L404.6 503.3L405.2 503.0L405.7 501.8L406.3 501.0L406.8 500.2L407.4 498.2L407.9 498.1L408.5 497.9L409.1 495.9L409.6 495.6L410.2 496.4L410.7 495.1L411.3 496.7L411.8 494.8L412.4 496.8L412.9 499.5L413.5 502.1L414.1 504.5L414.6 507.9L415.2 501.3L415.7 494.3L416.3 488.9L416.8 481.1L417.4 476.9L418.0 476.2L418.5 474.6L419.1 472.8L419.6 472.3L420.2 478.6L420.7 483.0L421.3 490.3L421.8 496.8L422.4 491.0L423.0 485.9L423.5 483.5L424.1 477.4L424.6 477.6L425.2 478.6L425.7 477.3L426.3 476.0L426.9 477.9L427.4 475.7L428.0 474.3L428.5 476.2L429.1 473.8L429.6 474.1L430.2 475.3L430.8 474.3L431.3 471.8L431.9 472.7L432.4 472.2L433.0 472.0L433.5 470.6L434.1 471.4L434.5 468.8L435.0 468.6L435.6 467.4L436.2 467.7L436.8 463.5L437.3 464.2L437.9 462.1L438.5 462.9L439.1 461.9L439.7 461.7L440.3 462.4L440.9 460.7L441.4 459.8L442.0 460.0L442.6 460.1L443.2 463.2L443.8 462.6L444.4 464.0L445.0 467.7L445.5 469.8L446.1 471.5L446.7 471.3L447.3 470.4L447.9 468.8L448.5 467.6L449.1 470.5L449.6 474.4L450.2 475.0L450.8 478.5L451.4 480.9L452.0 483.3L452.6 483.3L453.2 484.4L453.7 484.6L454.3 483.2L454.9 483.5L455.5 485.1L456.1 484.8L456.7 486.0L457.3 487.5L457.8 489.0L458.4 488.3L459.0 489.0L459.6 486.0L460.2 486.8L460.8 489.0L461.4 485.5L461.9 488.3L462.5 488.7L463.1 490.6L463.7 495.4L464.3 495.5L464.9 494.0L465.5 491.8L466.0 492.2L466.6 491.7L467.2 495.7L467.8 498.1L468.4 499.5L469.0 496.3L469.6 491.2L470.1 493.8L470.7 496.4L471.3 496.6L471.9 495.1L472.5 497.7L473.1 499.4L473.7 496.9L474.2 498.7L474.8 496.3L475.4 496.5L476.0 494.7L476.6 498.7L477.2 499.6L477.8 500.6L478.3 500.7L478.9 503.6L479.5 503.8L480.1 508.9L480.7 512.9L481.3 513.2L481.9 517.3L484.2 477.5L486.5 573.5L487.7 515.0L489.8 587.6L490.6 515.0L491.2 518.1L491.8 521.0L492.4 525.4L493.0 529.5L493.6 531.8L494.2 534.0L494.7 539.0L495.3 537.4L495.9 539.7L496.5 540.2L497.1 541.3L497.7 542.5L498.3 540.9L498.8 542.2L499.4 541.1L500.0 542.0L500.6 542.9L501.2 541.4L501.8 538.9L502.3 542.9L502.9 546.2L503.5 549.2L504.1 550.7L504.7 552.1L505.3 549.8L505.9 554.1L506.4 554.1L507.0 554.4L507.6 556.3L508.2 556.6L508.8 554.1L509.4 557.2L510.0 557.4L510.5 555.6L511.1 558.1L511.7 558.8L512.3 558.6L512.9 562.2L513.5 561.0L514.1 564.1L514.6 564.8L515.2 565.4L515.8 567.9L516.4 567.7L517.0 566.9L517.6 570.0L518.2 566.8L518.7 566.8L519.3 568.8L519.9 569.0L520.5 567.1L521.1 566.3L521.7 564.1L522.3 563.7L522.8 561.2L523.4 561.2L524.0 562.4L524.6 560.9L525.2 561.4L525.8 564.2L526.4 562.3L526.9 564.8L527.5 565.2L528.1 564.4L528.7 566.0L529.3 567.0L529.9 567.9L530.5 565.7L531.0 566.4L531.6 567.8L532.2 568.7L532.8 566.3L533.4 563.5L534.0 563.8L534.6 563.6L535.1 563.1L535.7 565.5L536.3 566.6L536.9 568.6L537.5 572.0L538.1 571.6L538.7 573.1L539.2 572.7L539.8 573.1L540.4 574.7L541.0 571.7L541.6 574.8L542.2 574.0L542.8 576.4L543.3 578.2L543.9 578.8L544.5 579.0L545.1 581.9L545.7 578.0L546.3 579.1L546.9 577.2L547.4 576.8L548.0 577.0L548.6 575.8L549.2 573.5L549.8 570.7L550.4 568.8L551.0 568.0L551.5 565.5L552.7 604.0L553.3 610.9L553.9 621.3L554.5 625.9L555.1 634.9L555.6 639.6L557.5 720.0" fill="none" stroke="#000" stroke-width="3.7" stroke-linejoin="round" stroke-linecap="round"/>
<path d="M557.5 720.0L557.8 818.0L558.9 775.0L560.4 727.0L561.0 724.1L561.6 721.2L562.1 718.2L562.7 715.6L563.3 712.6L563.9 710.0L564.5 709.4L565.1 709.2L565.6 708.8L566.2 708.0L566.8 707.6L567.4 707.3L567.9 705.9L568.5 704.8L569.0 703.8L569.5 702.8L571.2 676.0L571.7 672.3L572.2 668.3L572.7 664.5L573.2 661.0L573.7 656.8L574.2 654.2L574.8 651.1L575.3 647.9L575.7 586.9L576.2 700.0L577.4 914.0L579.0 850.0L581.0 905.0L582.9 938.0L583.5 945.6L584.1 952.8L584.7 960.6L585.3 968.1L585.8 972.7L586.3 977.8L586.8 982.8L587.3 987.6L587.8 992.6L588.3 996.5L588.8 1000.5L589.2 1004.3L589.7 1008.4L590.2 1011.9L590.7 1014.9L591.3 1017.7L591.8 1020.4L592.3 1023.2L592.8 1025.9L593.4 1029.2L593.9 1031.6L594.4 1034.2L595.0 1036.9L595.5 1038.9L596.0 1041.9L596.5 1043.8L597.1 1046.2L597.6 1048.9L598.1 1051.0L598.7 1053.5L599.2 1055.5L599.7 1057.6L600.2 1059.5L600.8 1061.6L601.3 1063.5L601.8 1065.3L602.4 1066.4L602.9 1067.7L603.5 1069.2L604.0 1070.3L604.6 1071.8L605.1 1073.5L605.7 1074.4L606.2 1075.8L606.7 1074.3L607.2 1072.9L607.7 1071.5L608.2 1069.9L608.7 1068.5L609.3 1071.3L609.9 1074.2L610.5 1077.3L611.1 1080.0L611.7 1082.9L612.3 1086.0L612.8 1085.5L613.4 1085.6L613.9 1086.0L614.4 1085.8L614.9 1086.0L615.5 1085.6L616.0 1085.8L616.5 1087.8L617.1 1089.2L617.6 1091.2L618.1 1092.8L618.6 1094.5L619.2 1096.6L619.7 1097.9L620.2 1098.0L620.8 1098.1L621.3 1097.9L621.8 1098.2L622.3 1098.1L622.9 1098.1L623.4 1098.0L623.9 1100.4L624.5 1102.6L625.0 1104.6L625.5 1106.5L626.0 1108.6L626.6 1110.8L627.1 1112.6L627.6 1112.0L628.2 1111.8L628.7 1110.6L629.2 1110.4L629.7 1109.5L630.3 1108.9L630.8 1107.7L631.3 1110.0L631.9 1112.4L632.4 1114.0L632.9 1116.2L633.4 1118.4L634.0 1120.4L634.5 1122.5L635.0 1122.8L635.6 1122.5L636.1 1123.0L636.6 1122.8L637.1 1122.4L637.7 1122.9L638.2 1122.5L638.8 1124.7L639.4 1126.8L640.0 1128.6L640.6 1130.9L641.2 1132.7L641.8 1134.8L642.3 1134.5L642.9 1133.8L643.4 1132.9L643.9 1132.3L644.4 1131.7L645.0 1130.5L645.5 1130.0L646.0 1131.9L646.6 1134.0L647.1 1136.1L647.6 1138.3L648.1 1140.3L648.7 1142.5L649.2 1144.7L649.7 1143.4L650.2 1142.1L650.7 1140.7L651.2 1139.1L651.7 1137.5L652.2 1140.2L652.8 1142.2L653.3 1144.6L653.8 1147.5L654.3 1149.9L654.9 1152.1L655.4 1154.6L655.9 1154.6L656.4 1154.7L656.9 1154.7L657.5 1154.6L658.0 1154.9L658.5 1154.9L659.0 1154.7L659.5 1158.5L660.1 1162.2L660.7 1166.3L661.2 1170.3L661.8 977.9L662.8 1205.0L665.9 1125.4L666.5 1123.2L667.1 1121.4L667.7 1119.3L668.3 1117.2L668.9 1114.7L669.4 1110.5L670.0 1105.7L670.5 1101.1L671.0 1096.7L671.5 930.0L672.0 924.8L672.5 919.4L673.0 914.1L673.6 919.9L674.1 925.5L674.7 931.0L675.3 937.2L676.0 860.0L677.0 809.7L677.5 809.2L678.0 808.5L678.6 807.7L679.1 806.6L679.6 812.3L680.0 817.9L680.5 823.8L681.0 827.9L681.5 832.0L682.0 836.6L682.5 840.9L683.0 845.0L683.6 691.6L684.6 725.0L685.1 730.7L685.6 736.3L686.1 742.0L686.7 743.0L687.2 743.4L687.8 743.7L688.3 744.7L688.9 745.0L689.5 745.8L690.0 746.7L690.6 747.7L691.1 748.4L691.7 749.4L692.3 751.0L692.8 753.3L693.4 755.0L693.9 757.3L694.5 758.8L695.0 759.1L695.6 759.4L696.1 759.5L696.6 759.8L697.2 760.2L697.7 759.9L698.3 760.5L698.8 760.6L700.9 797.0L701.6 753.5L702.1 756.5L702.7 759.1L703.2 761.9L703.7 764.6L704.3 762.7L704.8 760.6L705.4 758.6L705.9 756.8L706.5 754.7L707.0 905.0L708.6 620.0L711.0 510.0L712.5 580.0L715.5 526.0" fill="none" stroke="#000" stroke-width="3.2" stroke-linejoin="round" stroke-linecap="round"/>
<path d="M715.5 526.0L716.0 486.5L716.5 481.8L717.1 477.7L717.6 475.6L718.1 473.9L718.6 474.8L719.1 475.5L719.7 472.3L720.2 473.6L720.8 473.3L721.3 473.9L721.9 472.6L722.4 470.5L722.9 470.3L723.4 473.3L723.9 471.2L724.4 470.2L724.9 474.2L725.4 471.5L726.0 470.8L726.5 469.5L727.0 468.0L727.5 468.8L728.0 465.8L728.5 465.0L729.1 462.6L729.6 462.1L730.2 456.3L730.8 456.5L731.5 385.3L732.3 415.0L732.8 413.4L733.4 413.5L733.9 415.5L734.5 414.5L735.0 413.1L735.6 415.4L736.1 416.8L736.6 415.9L737.1 415.5L737.6 417.1L738.1 417.9L738.6 414.7L739.1 415.6L739.7 418.1L740.3 417.5L740.9 413.8L741.4 415.5L742.0 415.8L742.6 414.1L743.1 414.1L743.7 412.8L744.3 411.2L744.9 410.7L745.4 409.7L746.0 411.9L746.6 409.2L747.1 411.0L747.7 409.6L748.3 409.4L748.8 411.9L749.4 409.4L749.9 409.9L750.5 409.6L751.0 409.0L751.5 409.1L752.1 410.6L752.6 413.1L753.1 411.2L753.6 416.2L754.1 416.3L754.6 414.8L755.1 419.0L755.7 416.2L756.2 415.3L756.8 412.1L757.3 412.4L757.8 411.1L758.4 410.8L758.9 408.5L759.4 412.4L759.9 415.8L760.5 416.8L761.0 415.9L761.6 417.8L762.2 416.1L762.7 416.1L763.3 416.8L763.9 417.6L764.5 417.9L765.0 417.9L765.6 419.7L766.2 416.5L766.7 419.0L767.3 417.4L767.9 420.4L768.4 419.9L769.0 419.0L769.6 420.3L770.1 422.1L770.7 421.7L771.2 424.1L771.8 421.8L772.4 422.1L772.9 425.0L773.5 424.0L774.0 422.1L774.6 425.5L775.1 424.0L775.7 426.9L776.2 425.8L776.8 426.8L777.3 427.5L777.9 426.0L778.4 428.3L779.0 424.5L779.6 426.1L780.1 428.6L780.7 425.2L781.2 428.4L781.8 430.1L782.3 429.5L782.9 430.7L783.5 427.8L784.0 430.4L784.6 431.3L785.2 431.1L785.8 431.6L786.3 433.8L786.9 430.5L787.4 429.4L788.0 431.3L788.5 432.4L789.0 431.2L789.6 430.0L790.1 427.8L790.7 431.4L791.2 428.4L791.8 430.2L792.3 433.5L792.9 434.8L793.4 433.5L793.9 436.6L794.4 432.4L795.0 434.0L795.5 431.0L796.0 431.1L796.5 430.3L797.0 428.8L797.6 430.5L798.2 430.8L798.7 429.7L799.3 431.2L799.9 428.4L800.5 430.4L801.1 430.3L801.7 429.6L802.3 431.8L802.8 428.2L803.4 429.4L804.0 429.4L804.6 428.9L805.2 431.5L805.8 429.7L806.4 429.4L806.9 429.0L807.5 428.9L808.1 431.1L808.7 430.4L809.3 429.6L809.9 427.5L810.5 429.3L811.0 427.2L811.6 428.1L812.2 426.6L812.8 429.8L813.4 431.2L814.0 429.8L814.5 429.7L815.1 428.5L815.7 429.5L816.3 429.8L816.9 429.8L817.5 429.3L818.1 429.2L818.6 431.7L819.2 432.8L819.8 432.4L820.4 431.5L821.0 428.8L821.6 429.9L822.2 432.3L822.7 432.8L823.3 430.8L823.9 430.9L824.5 431.3L825.1 429.3L825.7 431.3L826.3 429.8L826.8 431.8L827.4 430.1L828.0 430.9L828.5 430.3L829.1 430.2L829.6 429.8L830.2 431.9L830.7 430.9L831.3 429.4L831.9 429.7L832.4 431.4L833.0 430.6L833.5 430.1L834.0 432.6L834.5 430.1L835.0 433.3L835.5 434.6L836.1 435.0L836.6 438.4L837.1 438.0L837.7 435.1L838.2 435.8L838.8 436.1L839.3 435.4L839.9 433.6L840.4 435.2L841.0 432.9L841.5 431.6L842.1 433.6L842.6 433.2L843.2 431.8L843.8 431.8L844.4 433.6L845.0 432.5L845.6 430.3L846.2 432.2L846.7 430.4L847.3 429.3L847.9 430.0L848.5 430.2L849.1 430.4L849.7 429.0L850.3 428.7L850.8 427.6L851.4 426.1L852.0 428.0L852.5 426.6L853.1 430.4L853.7 427.9L854.3 429.1L854.8 429.7L855.4 427.9L856.0 431.4L856.5 429.7L857.1 429.2L857.7 432.1L858.3 431.8L858.8 434.7L859.4 433.2L860.0 432.2L860.5 430.8L861.1 429.7L861.6 430.6L862.1 430.5L862.7 426.4L863.2 426.5L863.8 427.2L864.3 429.2L864.9 429.6L865.4 429.3L866.0 428.3L866.5 428.1L867.1 427.7L867.6 430.5L868.2 429.6L868.7 431.3L869.3 434.8L869.8 433.0L870.4 433.1L870.9 431.3L871.5 429.9L872.0 430.3L872.6 430.0L873.1 427.9L873.7 430.0L874.2 430.0L874.8 425.8L875.3 425.5L875.9 427.4L876.4 426.3L877.0 423.5L877.5 424.5L878.1 422.3L878.6 424.4L879.2 422.9L879.7 422.2L880.3 420.3L880.8 421.0L881.4 420.9L881.9 420.0L882.5 415.6L883.0 412.0L883.6 410.5L884.1 411.0L884.7 410.0L885.2 408.5L885.8 408.7L886.3 405.3L886.9 405.1L887.4 406.7L888.0 404.0L888.5 404.7L889.1 408.1L889.6 405.9L890.2 406.2L890.7 407.5L891.3 408.0L891.8 402.8L892.4 405.1L892.9 401.1L893.5 402.0L894.0 401.3L894.6 399.5L895.1 402.9L895.7 399.2L896.2 403.1L896.8 404.6L897.3 403.9L897.9 404.4L898.4 398.7L899.0 397.3L899.5 398.8L900.1 397.0L900.6 400.2L901.2 399.0L901.7 400.2L902.3 401.3L902.8 403.5L903.4 410.7L903.9 411.1L904.5 410.3L905.0 407.2L905.6 407.5L906.1 405.2L906.7 402.3L907.2 402.4L907.8 404.5L908.4 407.3L908.9 405.4L909.5 405.0L910.0 406.1L910.6 405.5L911.1 405.7L911.7 404.3L912.2 404.6L912.8 402.1L913.3 406.0L913.9 402.6L914.4 403.6L915.0 404.0L915.5 409.0L916.1 409.8L916.6 413.7L917.2 413.5L917.7 412.9L918.3 411.0L918.8 409.4L919.4 411.6L919.9 413.1L920.5 413.1L921.0 417.1L921.6 417.2L922.1 419.6L922.7 421.3L923.2 420.5L923.8 420.0L924.3 418.5L924.9 414.6L925.4 419.5L926.0 422.8L926.5 423.6L927.1 423.8L927.6 424.0L928.2 424.0L928.7 427.5L929.3 430.0L929.8 427.3L930.4 431.4L930.9 430.5L931.5 426.9L932.0 427.8L932.6 423.5L933.1 426.2L933.7 429.4L934.2 432.8L934.8 433.3L935.3 433.3L935.9 439.0L936.4 436.9L937.0 437.3L937.5 434.3L938.1 434.2L938.6 432.6L939.2 432.5L939.7 434.1L940.3 434.6L940.8 436.2L941.4 437.5L941.9 433.5L942.5 434.3L943.0 431.2L943.6 431.9L944.1 433.1L944.7 438.5L945.2 439.2L945.8 438.5L946.3 440.2L946.9 437.7L947.4 436.8L948.0 437.2L948.5 436.2L949.1 437.8L949.6 440.4L950.2 443.3L950.7 440.7L951.3 444.9L951.8 445.3L952.4 443.8L952.9 446.9L953.5 447.6L954.0 447.7L954.6 446.7L955.1 445.4L955.7 446.0L956.2 445.5L956.8 447.2L957.3 447.8L957.9 447.2L958.4 448.5L959.0 449.7L959.5 448.7L960.1 448.3L960.6 447.9L961.2 444.5L961.7 444.6L962.3 442.5L962.8 442.3L963.4 442.3L963.9 446.2L964.5 446.4L965.1 446.3L965.6 445.8L966.2 448.1L966.7 450.3L967.3 450.5L967.8 450.5L968.4 448.0L968.9 449.2L969.5 449.8L970.0 449.8L970.6 446.3L971.1 444.9L971.7 447.8L972.2 445.4L972.8 444.6L973.3 443.3L973.9 443.3L974.4 442.7L975.0 442.1L975.5 441.5L976.1 444.4L976.6 447.3L977.2 446.8L977.7 448.9L978.3 450.8L978.8 451.4L979.4 450.1L979.9 450.1L980.5 445.6L981.0 447.4L981.6 444.1L982.1 444.4L982.7 443.2L983.2 442.4L983.8 442.5L984.3 442.7L984.9 443.6L985.4 448.8L986.0 449.9L986.5 448.8L987.1 447.9L987.6 452.0L988.2 451.3L988.7 451.9L989.3 451.3L989.8 447.8L990.4 446.7L990.9 447.9L991.5 446.2L992.0 445.9L992.6 442.1L993.1 443.1L993.7 443.3L994.2 442.1L994.8 444.4L995.3 441.7L995.9 441.9L996.4 447.1L997.0 446.0L997.5 449.6L998.1 452.5L998.6 451.2L999.2 448.1L999.7 449.6L1000.3 445.3L1000.8 446.5L1001.4 446.9L1001.9 444.4L1002.5 442.2L1003.0 444.2L1003.6 442.0L1004.1 443.1L1004.7 444.3L1005.2 445.2L1005.8 444.4L1006.3 446.3L1006.9 446.1L1007.4 446.3L1008.0 447.6L1008.5 448.8L1009.1 446.7L1009.6 448.3L1010.2 446.3L1010.7 447.5L1011.3 442.7L1011.8 444.9L1012.4 441.3L1012.9 441.8L1013.5 441.6L1014.0 444.5L1014.6 443.0L1015.1 442.2L1015.7 440.9L1016.2 440.2L1016.8 441.5L1017.3 443.4L1017.9 440.3L1018.4 440.6L1019.0 440.7L1019.5 436.3L1020.1 436.2L1020.6 435.3L1021.2 433.2L1021.7 432.6L1022.3 432.6L1022.9 428.9L1023.4 431.4L1024.0 429.7L1024.5 431.2L1025.1 429.1L1025.6 431.8L1026.2 430.2L1026.7 431.1L1027.3 430.8L1027.8 428.2L1028.4 424.8L1028.9 425.4L1029.5 427.1L1030.0 425.1L1030.6 424.9L1031.1 423.0L1031.7 424.4L1032.2 423.6L1032.8 421.7L1033.3 421.6L1033.9 419.4L1034.4 419.0L1035.0 419.9L1035.5 422.2L1036.1 422.7L1036.6 422.4L1037.2 422.9L1037.7 416.8L1038.3 414.4L1038.8 413.1L1039.4 409.7L1039.9 411.8L1040.5 412.8L1041.0 412.3L1041.6 408.3L1042.1 410.4L1042.7 410.8L1043.2 411.2L1043.8 410.6L1044.3 410.2L1044.9 413.5L1045.4 415.3L1046.0 416.1L1046.5 417.0L1047.1 416.4L1047.6 417.2L1048.2 416.7L1048.7 416.5L1049.3 416.1L1049.8 417.8L1050.4 417.6L1050.9 415.1L1051.5 418.0L1052.0 413.8L1052.6 417.7L1053.1 415.8L1053.7 415.8L1054.2 413.9L1054.8 415.4L1055.3 416.9L1055.9 414.5L1056.4 414.8L1057.0 418.3L1057.5 416.6L1058.1 416.6L1058.6 418.9L1059.2 418.2L1059.7 417.2L1060.3 416.4L1060.8 414.4L1061.4 416.5L1061.9 415.2L1062.5 415.4L1063.0 413.7L1063.6 415.6L1064.1 416.3L1064.7 416.2L1065.2 411.8L1065.8 412.8L1066.3 411.7L1066.9 413.8L1067.4 415.0L1068.0 415.1L1068.5 414.4L1069.1 417.5L1069.6 416.4L1070.2 418.4L1070.7 415.9L1071.3 416.9L1071.8 414.5L1072.4 416.4L1072.9 416.9L1073.5 415.1L1074.0 416.8L1074.6 414.6L1075.1 416.1L1075.7 418.5L1076.2 419.7L1076.8 420.0L1077.3 421.9L1077.9 424.5L1078.4 425.7L1078.9 424.8L1079.5 423.7L1080.0 424.3L1080.6 424.9L1081.1 424.9L1081.7 427.6L1082.2 427.9L1082.8 428.0L1083.3 427.3L1083.9 431.5L1084.4 427.9L1085.0 428.4L1085.5 429.4L1086.1 431.8L1086.6 432.6L1087.2 432.0L1087.7 429.8L1088.3 437.2L1088.8 438.2L1089.4 443.2L1089.9 443.3L1090.5 445.4L1091.0 445.6L1091.6 445.9L1092.1 447.4L1092.7 446.7L1093.2 446.8L1093.8 444.4L1094.3 447.8L1094.9 448.6L1095.4 449.1L1096.0 446.6L1096.5 450.2L1097.1 448.3L1097.6 447.2L1098.2 444.9L1098.9 471.3L1099.8 440.5L1100.4 441.7L1100.9 441.8L1101.5 441.6L1102.0 439.6L1102.6 441.5L1103.1 438.6L1103.7 441.3L1104.2 438.4L1104.8 438.3L1105.3 438.7L1105.9 440.7L1106.4 441.8L1107.0 439.1L1107.5 439.4L1108.1 438.8L1108.6 439.5L1109.2 439.6L1109.7 438.6L1110.3 437.3L1110.8 437.1L1111.4 441.6L1111.9 439.9L1112.5 442.9L1113.0 444.3L1113.6 441.0L1114.1 440.9L1114.7 441.7L1115.2 443.3L1115.8 443.1L1116.3 443.5L1116.9 440.1L1117.4 441.4L1118.0 442.3L1118.5 439.9L1119.1 441.2L1119.6 440.0L1120.2 443.1L1120.7 441.7L1121.3 442.2L1121.8 443.3L1122.4 444.6L1122.9 449.5L1123.5 448.1L1124.0 448.1L1124.6 449.6L1125.1 449.5L1125.7 449.8L1126.2 450.6L1126.8 450.5L1127.3 448.9L1127.9 450.1L1128.4 451.2L1129.0 447.9L1129.5 450.7L1130.1 450.3L1130.6 449.9L1131.2 450.6L1131.7 453.3L1132.3 457.2L1132.8 459.8L1133.4 460.0L1133.9 458.8L1134.5 459.1L1135.0 458.6L1135.6 455.5L1136.1 457.6L1136.7 458.2L1137.2 457.4L1137.8 455.1L1138.4 456.8L1138.9 456.3L1139.5 457.4L1140.0 459.6L1140.6 460.3L1141.1 458.9L1141.7 462.0L1142.2 461.3L1142.8 463.8L1143.3 468.3L1143.9 468.2L1144.4 464.9L1145.0 466.6L1145.5 463.6L1146.1 464.5L1146.6 463.4L1147.2 461.8L1147.7 464.0L1148.3 465.2L1148.8 467.2L1149.4 464.6L1149.9 466.1L1150.5 465.5L1151.0 467.1L1151.6 468.1L1152.1 472.3L1152.7 474.7L1153.2 473.3L1153.8 474.2L1154.3 474.1L1154.9 473.6L1155.4 475.4L1156.0 475.0L1156.5 470.7L1157.1 472.0L1157.6 473.6L1158.2 475.3L1158.7 475.8L1159.3 478.2L1159.8 476.1L1160.4 478.8L1160.9 481.0L1161.5 478.6L1162.0 479.2L1162.6 481.7L1163.1 480.2L1163.7 482.5L1164.2 481.2L1164.8 482.0L1165.3 481.3L1165.9 481.9L1166.4 479.8L1167.0 478.4L1167.5 479.0L1168.1 478.5L1168.6 481.6L1169.2 480.5L1169.7 481.2L1170.3 479.3L1170.8 479.5L1171.4 480.5L1171.9 481.6L1172.5 479.9L1173.0 476.5L1173.6 479.2L1174.1 474.2L1174.7 473.5L1175.2 469.4L1175.8 466.4L1176.3 467.2L1176.9 463.5L1177.4 462.9L1178.0 462.3L1178.5 460.7L1179.1 458.8L1179.6 457.8L1180.2 458.2L1180.7 456.4L1181.3 455.9L1181.8 457.8L1182.4 455.2L1182.9 456.3L1183.5 455.6L1184.0 452.8L1184.6 452.4L1185.1 448.5L1185.7 445.2L1186.2 447.1L1186.8 444.9L1187.3 444.6L1187.9 445.2L1188.4 442.8L1189.0 442.7L1189.5 443.3L1190.1 444.3L1190.6 443.9L1191.2 448.2L1191.7 451.3L1192.3 450.4L1192.8 451.5L1193.4 450.5L1193.9 451.0L1194.5 447.5L1195.1 449.0L1195.6 446.2L1196.2 450.6L1196.7 449.1L1197.3 452.4L1197.8 450.8L1198.4 448.7L1198.9 450.0L1199.5 447.3L1200.0 449.0L1200.6 447.4L1201.1 447.1L1201.7 450.3L1202.2 452.8L1202.8 456.0L1203.3 455.9L1203.9 455.9L1204.4 454.3L1205.0 453.2L1205.5 451.7L1206.1 452.3L1206.6 453.2L1207.2 454.3L1207.7 458.0L1208.3 452.9L1208.8 448.0L1209.4 446.2L1209.9 444.7L1210.5 441.3L1211.0 440.4L1211.6 443.6L1212.1 445.5L1212.7 449.0L1213.2 448.2L1213.8 451.7L1214.3 451.8L1214.9 448.8L1215.4 451.5L1216.0 447.9L1216.5 444.7L1217.1 442.2L1217.6 437.7L1218.2 439.0L1218.7 433.9L1219.3 436.1L1219.8 432.1L1220.4 429.6L1220.9 434.1L1221.5 435.9L1222.0 435.7L1222.6 437.3L1223.1 437.1L1223.7 437.9L1224.2 441.2L1224.8 443.3L1225.3 442.4L1225.9 444.3L1226.4 443.2L1227.0 442.5L1227.5 444.5L1228.1 440.1L1228.6 439.5L1229.2 438.8L1229.7 440.1L1230.3 437.7L1230.8 437.2L1231.4 438.3L1231.9 440.5L1232.5 440.6L1233.0 439.5L1233.6 444.2L1234.1 450.0L1234.7 453.1L1235.2 454.8L1235.8 455.4L1236.3 459.4L1236.9 460.1L1237.4 458.2L1238.0 456.4L1238.5 455.7L1239.1 453.5L1239.6 454.6L1240.2 450.6L1240.7 449.8L1241.3 448.5L1241.8 447.7L1242.4 450.2L1242.9 451.8L1243.5 453.3L1244.0 452.3L1244.6 453.6L1245.1 458.7L1245.7 459.2L1246.2 460.4L1246.8 464.4L1247.3 467.4L1247.9 466.1L1248.4 461.6L1249.0 459.2L1249.5 457.3L1250.1 455.7L1250.6 453.5L1251.2 456.1L1251.7 454.3L1252.3 451.1L1252.9 450.8L1253.4 450.6L1254.0 453.5L1254.5 453.0L1255.1 457.2L1255.6 456.9L1256.2 458.9L1256.7 464.4L1257.3 462.8L1257.8 464.3L1258.4 464.1L1258.9 462.9L1259.5 464.3L1260.0 464.4L1260.6 461.3L1261.1 459.6L1261.7 458.5L1262.2 456.4L1262.8 455.1L1263.3 453.8L1264.7 487.8L1266.1 462.5L1266.6 470.6L1267.2 482.0L1267.7 479.2L1268.3 476.6L1268.8 477.6L1269.4 469.8L1269.9 460.0L1270.5 463.2L1271.0 462.1L1271.6 461.9L1272.1 461.1L1272.7 460.6L1273.2 461.3L1273.8 463.1L1274.3 462.6L1274.9 461.8L1275.4 458.2L1276.0 463.5L1276.5 465.1L1277.1 467.0L1277.6 468.3L1278.2 471.7L1278.7 471.3L1279.3 468.7L1279.8 467.1L1280.4 466.7L1280.9 466.9L1281.5 465.5L1282.0 464.0L1282.6 460.0L1283.1 459.4L1283.7 455.8L1284.2 459.2L1284.8 458.7L1285.3 462.9L1285.9 465.7L1286.4 471.3L1287.0 474.2L1287.5 480.6L1288.1 471.6L1288.6 464.7L1289.2 466.5L1289.7 464.9L1290.3 464.5L1290.8 464.8L1291.4 464.9L1291.9 464.7L1292.5 461.7L1293.0 461.5L1293.6 460.3L1294.1 459.2L1294.7 457.3L1295.2 458.4L1295.8 461.4L1296.3 459.5L1296.9 464.4L1297.4 463.2L1298.0 463.4L1298.5 465.8L1299.1 465.0L1299.6 464.6L1300.2 463.6L1300.7 463.7L1301.3 464.8L1301.8 462.1L1302.4 462.8L1302.9 458.7L1303.5 457.6L1304.0 458.8L1304.6 461.2L1305.1 462.8L1305.7 463.1L1306.2 462.3L1306.8 463.1L1307.3 466.0L1307.9 466.3L1308.4 467.4L1308.9 464.7L1309.5 466.3L1310.0 464.3L1310.6 463.0L1311.1 461.6L1311.7 463.2L1312.2 461.1L1312.8 460.3L1313.3 460.6L1313.9 456.1L1314.4 457.4L1315.0 458.3L1315.5 459.8L1316.1 464.2L1316.6 463.5L1317.2 466.0L1317.7 468.0L1318.3 465.6L1318.8 465.2L1319.4 462.8L1319.9 463.9L1320.5 463.3L1321.0 463.9L1321.6 462.6L1322.1 458.7L1322.7 460.4L1323.2 457.3L1323.8 458.1L1324.3 460.5L1324.9 461.8L1325.4 462.1L1326.0 460.9L1326.5 463.9L1327.1 465.6L1327.6 466.4L1328.2 469.4L1328.7 468.0L1329.3 463.8L1329.8 464.1L1330.4 463.8L1330.9 462.9L1331.5 461.0L1332.0 461.1L1332.6 458.7L1333.1 455.9L1333.7 456.5L1334.2 457.0L1334.8 458.3L1335.3 459.7L1335.9 461.8L1336.4 463.0L1337.0 463.4L1337.5 466.2L1338.1 463.7L1338.6 464.1L1339.2 463.9L1339.7 461.3L1340.3 458.7L1340.8 461.1L1341.4 457.1L1341.9 456.9L1342.5 456.0L1343.0 457.5L1343.6 457.3L1344.1 459.0L1344.7 456.0L1345.2 456.7L1345.8 459.5L1346.3 457.4L1346.9 460.2L1347.4 460.1L1348.0 463.9L1348.5 463.0L1349.1 461.3L1349.6 460.1L1350.2 459.5L1350.7 460.7L1351.3 457.1L1351.8 455.8L1352.4 455.6L1352.9 453.8L1353.5 455.8L1354.0 454.9L1354.6 452.9L1355.1 451.0L1355.7 450.6L1356.2 454.5L1356.8 453.4L1357.3 455.6L1357.9 458.5L1358.4 456.1L1359.0 457.1L1359.5 455.0L1360.1 454.5L1360.6 453.0L1361.2 453.3L1361.7 451.6L1362.3 448.4L1362.8 451.0L1363.4 445.4L1363.9 442.8L1364.5 440.4L1365.0 437.8L1365.6 438.2L1366.1 434.9L1366.7 435.7L1367.2 436.3L1367.8 436.9L1368.4 437.1L1368.9 440.7L1369.5 442.7L1370.0 442.5L1370.6 440.2L1371.1 436.8L1371.7 436.5L1372.2 436.1L1372.8 432.3L1373.3 431.1L1373.9 431.0L1374.4 430.3L1375.0 431.6L1375.5 430.0L1376.1 432.7L1376.6 432.9L1377.2 431.1L1377.7 430.6L1378.3 430.9L1378.8 435.0L1379.4 433.8L1379.9 432.3L1380.5 431.8L1381.0 434.8L1381.6 432.1L1382.1 435.1L1382.7 432.4L1383.2 433.1L1383.8 431.4L1384.3 432.3L1384.9 429.6L1385.4 429.7L1386.0 428.6L1386.5 429.6L1387.1 433.0L1387.6 436.2L1388.2 433.1L1388.7 440.6L1389.3 441.6L1389.8 444.7L1390.4 445.3L1390.9 447.8L1391.5 447.7L1392.0 450.6L1392.6 451.6L1393.1 449.0L1393.7 450.9L1394.2 448.3L1394.8 447.7L1395.3 444.2L1395.9 445.0L1396.4 446.0L1397.0 447.4L1397.5 446.0L1398.1 450.4L1398.6 449.4L1399.2 448.8L1399.7 453.6L1400.3 452.0L1400.8 453.8L1401.4 449.9L1401.9 448.5L1402.5 449.6L1403.0 448.9L1403.6 448.7L1404.1 447.7L1404.7 445.6L1405.2 448.0L1405.8 447.6L1406.3 446.7L1406.9 449.3L1407.4 448.9L1408.0 451.5L1408.5 451.6L1409.1 453.7L1409.6 455.6L1410.2 459.1L1410.7 456.7L1411.3 458.9L1411.8 459.2L1412.4 461.8L1412.9 458.9L1413.5 459.5L1414.0 459.7L1414.6 456.8L1415.1 458.2L1415.7 454.0L1416.2 455.9L1416.8 455.8L1417.3 456.6L1417.9 456.5L1418.4 460.4L1419.0 460.7L1419.5 462.3L1420.1 461.6L1420.6 460.0L1421.2 461.8L1421.7 462.7L1422.3 460.8L1422.8 459.2L1423.4 460.1L1423.9 461.3L1424.5 460.9L1425.1 458.9L1425.6 458.3L1426.2 454.1L1426.7 453.5L1427.3 451.8L1427.8 455.0L1428.4 456.5L1428.9 455.8L1429.5 460.6L1430.0 460.8L1430.6 461.6L1431.1 462.6L1431.7 461.7L1432.2 461.6L1432.8 461.2L1433.3 460.7L1433.9 460.2L1434.4 458.8L1435.0 455.2L1435.5 455.9L1436.1 451.5L1436.6 451.7L1437.2 451.9L1437.7 450.0L1438.3 454.0L1438.8 453.3L1439.4 455.5L1439.9 454.1L1440.5 454.7L1441.0 455.3L1441.6 456.6L1442.1 457.6L1442.7 455.9L1443.2 455.4L1443.8 454.5L1444.3 454.5L1444.9 454.9L1445.4 455.0L1446.0 452.2L1446.5 453.1L1447.1 451.1L1447.6 450.1L1448.2 450.0L1448.7 452.2L1449.3 453.9L1449.8 454.2L1450.4 454.6L1450.9 456.8L1451.5 454.7L1452.0 455.0L1452.6 453.6L1453.1 454.6L1453.7 451.2L1454.2 450.9L1454.8 451.6L1455.3 448.8L1455.9 450.3L1456.4 449.2L1457.0 449.4L1457.5 452.1L1458.1 453.2L1458.6 453.0L1459.2 453.9L1459.7 458.0L1460.3 456.8L1460.8 458.7L1461.4 457.0L1461.9 457.1L1462.5 455.5L1463.0 454.5L1463.6 457.0L1464.1 455.8L1464.7 454.0L1465.2 454.2L1465.8 454.6L1466.3 452.2L1466.9 454.4L1467.4 455.8L1468.0 454.2L1468.5 453.7L1469.1 452.6L1469.6 454.9L1470.2 455.6L1470.7 456.6L1471.3 457.8L1471.8 454.7L1472.4 453.6L1472.9 457.0L1473.5 454.7L1474.0 455.9L1474.6 454.2L1475.1 455.2L1475.7 454.1L1476.2 454.9L1476.8 454.8L1477.3 456.5L1477.9 455.9L1478.4 457.1L1479.0 455.5L1479.5 455.4L1480.1 456.2L1480.6 458.2L1481.2 459.4L1481.7 460.8L1482.3 459.2L1482.9 460.8L1483.4 457.7L1484.0 455.4L1484.5 457.0L1485.1 457.0L1485.6 454.5L1486.2 456.1L1486.7 453.2L1487.3 455.7L1487.8 453.2L1488.4 454.8L1488.9 452.8L1489.5 453.8L1490.0 452.1L1490.6 455.6L1491.1 456.7L1491.7 453.5L1492.2 454.3L1492.8 451.4L1493.3 453.4L1493.9 452.2L1494.4 451.4L1495.0 449.6L1495.5 446.8L1496.1 446.8L1496.6 444.1L1497.2 444.1L1497.7 445.9L1498.3 446.6L1498.8 444.4L1499.4 443.0L1499.9 443.3L1500.5 444.8L1501.0 445.1L1501.6 447.7L1502.1 446.9L1502.7 447.9L1503.2 446.6L1503.8 445.7L1504.3 445.2L1504.9 442.1L1505.4 443.7L1506.0 442.2L1506.5 442.2L1507.1 441.2L1507.6 440.7L1508.2 442.1L1508.7 441.6L1509.3 438.6L1509.8 441.2L1510.4 441.6L1510.9 441.2L1511.5 446.2L1512.0 448.4L1512.6 448.2L1513.1 447.8L1513.7 446.7L1514.2 446.0L1514.8 447.1L1515.3 446.3L1515.9 446.9L1516.4 445.2L1517.0 441.4L1517.5 442.1L1518.1 439.0L1518.6 437.0L1519.2 436.1L1519.7 438.1L1520.3 438.5L1520.8 439.0L1521.4 439.2L1521.9 437.2L1522.5 438.2L1523.0 437.8L1523.6 436.1L1524.1 433.8L1524.7 436.2L1525.2 436.5L1525.8 434.2L1526.3 435.8L1526.9 431.5L1527.4 433.4L1528.5 468.3L1529.6 447.3L1530.2 448.0L1530.7 450.2L1531.3 521.1L1531.8 515.2L1532.4 511.5L1532.9 503.9L1533.5 499.0L1534.0 494.3L1534.6 499.6L1535.1 504.8L1535.7 512.3L1536.2 515.7L1536.8 512.6L1537.3 507.4L1537.9 505.8L1538.4 503.5L1539.0 500.0L1539.5 497.8L1540.0 493.6L1540.6 499.5L1541.1 504.0L1541.7 508.4L1542.2 511.1L1542.8 513.3L1543.3 511.7L1543.9 515.6L1544.4 514.8L1545.0 516.8L1545.5 520.5L1546.1 522.4L1546.6 522.6L1547.2 522.5L1547.7 524.3L1548.3 524.7L1548.8 525.6L1549.4 526.4L1549.9 530.8L1550.5 531.3L1551.0 528.5L1551.6 532.0L1552.1 532.1L1552.7 532.6L1553.2 531.0L1553.8 531.6L1554.3 532.2L1554.9 531.0L1555.4 531.4L1556.0 526.9L1556.5 529.0L1557.1 530.1L1557.6 531.2L1558.2 534.6L1558.7 535.5L1559.3 535.8L1559.8 535.3L1560.4 536.2L1560.9 536.8L1561.5 534.3L1562.0 536.4L1562.6 538.3L1563.1 535.1L1563.7 537.0L1564.2 537.4L1564.8 540.3L1565.3 539.3L1565.9 538.6L1566.4 540.4L1567.0 536.1L1567.5 530.1L1568.1 527.6L1568.6 530.9L1569.2 528.3L1569.7 527.0L1570.3 529.4L1570.8 532.0L1571.4 534.1L1571.9 534.3L1572.5 536.4L1573.0 541.9L1573.6 539.3L1574.1 535.5L1574.7 536.2L1575.2 532.5L1575.8 533.6L1576.3 534.1L1576.9 531.5L1577.4 531.7L1578.0 532.5L1578.5 530.0L1579.1 531.4L1579.6 528.7L1580.2 531.4L1580.7 529.2L1581.3 529.9L1581.8 532.2L1582.4 531.1L1582.9 532.1L1583.5 538.4L1584.0 540.2L1584.6 544.2L1585.1 543.1L1585.7 542.5L1586.2 545.9L1586.8 543.1L1587.3 542.1L1587.9 544.6L1588.4 541.4L1589.5 523.3L1590.1 522.6L1590.6 520.9L1591.2 520.2L1591.7 527.6L1592.3 528.8L1592.8 532.8L1593.4 533.9L1593.9 538.1L1594.5 535.1L1595.0 536.9L1595.6 531.6L1596.1 534.1L1596.7 536.1L1597.2 534.6L1597.8 537.0L1598.4 538.4L1598.9 534.8L1599.5 533.8L1600.0 531.1L1600.6 532.9L1601.1 531.3L1601.7 530.1L1602.2 531.4L1602.8 530.4L1603.3 530.1L1603.9 534.9L1604.4 540.2L1605.0 540.2L1605.5 543.2L1606.1 541.7L1606.6 541.4L1607.2 538.8L1607.7 536.6L1608.3 537.7L1608.8 535.4L1609.4 537.4L1609.9 539.2L1610.5 538.3L1611.0 539.7L1611.6 537.6L1612.1 541.0L1612.7 538.3L1613.2 538.4L1613.8 538.8L1614.3 539.5L1614.9 535.2L1615.4 535.2L1616.0 536.6L1616.5 536.9L1617.1 540.1L1617.6 541.7L1618.2 544.8L1618.7 543.4L1619.3 541.2L1619.8 543.4L1620.4 542.5L1620.9 539.5L1621.5 538.0L1622.0 540.2L1622.6 539.3L1623.1 537.1L1623.7 535.5L1624.2 536.1L1624.8 538.4L1625.3 536.8L1625.9 536.2L1626.4 537.4L1627.0 536.6L1627.5 540.4L1628.1 539.7L1628.6 541.0L1629.2 538.8L1629.7 538.4L1630.3 538.5L1630.8 538.3L1631.4 536.4L1631.9 539.6L1632.5 539.4L1633.0 541.2L1633.6 543.2L1634.1 543.1L1634.7 544.9L1635.2 541.8L1635.8 540.9L1636.3 539.7L1636.9 541.9L1637.4 542.1L1638.0 539.1L1638.5 537.2L1639.1 539.1L1639.6 538.8L1640.2 536.1L1640.7 531.3L1641.3 525.7L1641.8 521.3L1642.4 425.3L1643.3 447.3L1644.2 424.2L1645.0 447.3L1646.0 424.8L1647.0 444.0L1647.5 444.7L1648.0 445.9L1648.6 443.3L1649.1 446.1L1649.6 444.5L1650.1 443.9L1650.6 445.2L1651.2 442.2L1651.7 443.1L1652.3 444.4L1652.8 443.7L1653.4 443.4L1653.9 442.3L1654.5 443.2L1655.1 444.2L1655.6 442.2L1656.2 445.7L1656.7 445.4L1657.3 446.2L1657.8 448.9L1658.4 452.6L1658.9 446.9L1659.5 446.3L1660.0 447.4L1660.6 442.0L1661.1 445.4L1661.7 444.1L1662.2 444.3L1662.8 443.9L1663.3 445.5L1663.9 446.3L1664.4 448.0L1665.0 445.0L1665.5 440.4L1666.1 434.8L1666.6 436.1L1667.2 437.6L1667.7 434.2L1668.3 435.9L1668.8 433.5L1669.4 433.6L1669.9 434.3L1670.5 434.9L1671.0 432.8L1671.6 430.6L1672.1 431.5L1672.7 428.5L1673.2 430.7L1673.8 431.8L1674.3 432.7L1674.9 435.8L1675.4 433.7L1676.0 433.4L1676.5 433.0L1677.1 433.0L1677.6 429.5L1678.2 433.7L1678.7 434.0L1679.3 431.9L1679.8 435.9L1680.4 433.9L1680.9 437.3L1681.5 435.3L1682.0 439.0L1682.6 439.8L1683.1 439.2L1683.7 440.4L1684.2 441.5L1684.8 441.7L1685.3 441.1L1685.9 442.6L1686.4 442.7L1687.0 440.6L1687.5 441.5L1688.1 438.9L1688.6 438.8L1689.2 439.3L1689.7 438.8L1690.3 442.0L1690.8 443.1L1691.4 441.6L1691.9 443.6L1692.5 446.8L1693.0 446.3L1693.6 445.3L1694.1 449.8L1694.7 448.1L1695.2 450.5L1695.8 454.0L1696.3 454.9L1696.9 456.3L1697.4 454.7L1698.0 457.2L1698.5 456.3L1699.1 459.8L1699.6 456.1L1700.2 455.6L1700.7 457.7L1701.3 457.7L1701.8 457.1L1702.4 457.4L1702.9 460.1L1703.5 459.9L1704.0 458.5L1704.6 463.1L1705.1 461.7L1705.7 468.2L1706.2 468.6L1706.8 468.8L1707.3 467.1L1707.9 469.9L1708.4 467.7L1709.0 468.6L1709.5 464.7L1710.1 465.7L1710.6 464.8L1711.2 462.2L1711.7 464.1L1712.3 464.2L1712.9 465.2L1713.4 467.5L1713.9 466.7L1714.4 469.5L1714.9 473.3L1715.3 475.0L1715.8 477.8L1716.7 433.0L1717.3 442.8L1717.8 451.4L1718.4 451.2L1718.9 449.4L1719.5 451.9L1720.0 452.0L1720.6 449.5L1721.1 449.0L1721.7 448.1L1722.2 448.4L1722.8 444.4L1723.3 443.5L1723.9 447.9L1724.4 448.1L1725.0 447.4L1725.5 447.2L1726.1 447.4L1726.6 448.2L1727.2 451.6L1727.7 448.3L1728.3 451.8L1728.8 449.1L1729.4 452.0L1729.9 448.8L1730.5 450.2L1731.0 449.8L1731.6 448.0L1732.1 446.1L1732.7 446.5L1733.2 444.7L1733.8 447.2L1734.3 446.6L1734.9 448.8L1735.4 449.3L1736.0 451.5L1736.5 454.2L1737.1 454.9L1737.6 455.4L1738.2 456.7L1738.7 457.6L1739.3 454.0L1739.8 454.3L1740.4 452.5L1740.9 454.9L1741.5 450.9L1742.0 452.8L1742.6 449.3L1743.1 449.9L1743.7 451.1L1744.2 454.2L1744.8 452.0L1745.3 452.3L1745.9 455.6L1746.4 453.9L1747.0 455.9L1747.5 456.0L1748.1 455.7L1748.6 453.5L1749.2 451.0L1749.7 449.2L1750.3 451.0L1750.8 448.3L1751.4 448.5L1751.9 449.9L1752.5 451.5L1753.0 448.9L1753.6 448.8L1754.1 448.8L1754.7 449.4L1755.2 452.2L1755.8 451.5L1756.3 452.1L1756.9 451.9L1757.4 452.8L1758.0 454.1L1758.5 456.4L1759.1 456.2L1759.6 455.1L1760.2 451.8L1760.7 454.3L1761.3 450.9L1761.8 451.5L1762.4 452.7L1762.9 451.6L1763.5 454.0L1764.0 456.5L1764.6 453.4L1765.1 456.9L1765.7 454.3L1766.2 453.4L1766.8 454.5L1767.3 452.4L1767.9 453.2L1768.4 454.1L1768.9 451.1L1769.5 452.0L1770.0 449.0L1770.6 450.7L1771.1 450.2L1771.7 449.2L1772.2 448.3L1772.8 446.9L1773.3 446.0L1773.9 447.6L1774.4 446.7L1775.0 448.7L1775.5 445.3L1776.1 445.0L1776.6 445.9L1777.2 446.7L1777.7 447.3L1778.3 446.6L1778.8 444.8L1779.4 443.8L1779.9 446.1L1780.5 443.5L1781.0 446.3L1781.6 446.0L1782.1 447.7L1782.7 446.1L1783.2 446.7L1783.8 447.9L1784.3 446.0L1784.9 449.0L1785.4 447.6L1786.0 447.8L1786.5 444.8L1787.1 445.4L1787.6 444.6L1788.2 445.4L1788.7 445.7L1789.3 448.2L1789.8 446.2L1790.4 446.7L1790.9 446.2L1791.5 446.2L1792.0 444.8L1792.6 447.3L1793.1 446.3L1793.7 444.9L1794.2 447.2L1794.8 443.9L1795.3 447.5L1795.9 445.9L1796.4 447.0L1797.0 445.8L1797.5 444.5L1798.1 446.3L1798.6 445.4L1799.2 447.1L1799.7 445.0L1800.3 446.5L1800.8 445.5L1801.4 442.9L1801.9 440.5L1802.5 441.5L1803.0 439.9L1803.6 442.0L1804.1 441.3L1804.7 438.8L1805.2 440.0L1805.8 437.1L1806.3 439.7L1806.9 437.9L1807.4 434.2L1808.0 436.3L1808.5 434.4L1809.1 434.8L1809.6 431.8L1810.2 431.7L1810.7 433.2L1811.3 430.5L1811.8 429.1L1812.4 429.3L1812.9 426.2L1813.5 425.8L1814.0 426.4L1814.6 425.6L1815.1 425.6L1815.7 425.0L1816.2 422.1L1816.8 422.0L1817.3 423.5L1817.9 422.2L1818.4 420.8L1819.0 417.1L1819.5 418.7L1820.1 415.1L1820.6 414.5L1821.2 413.6L1821.7 418.2L1822.3 416.7L1822.8 417.9L1823.4 418.2L1823.9 421.0L1824.5 422.6L1825.0 420.6L1825.6 421.0L1826.1 419.6L1826.7 419.8L1827.2 419.6L1827.8 422.7L1828.4 422.6L1828.9 420.8L1829.5 421.1L1830.0 420.2L1830.6 421.3L1831.1 419.2L1831.7 419.6L1832.2 421.5L1832.8 420.1L1833.3 423.2L1833.9 421.2L1834.4 419.4L1835.0 421.8L1835.5 423.9L1836.1 421.3L1836.6 422.8L1837.2 423.7L1837.7 425.5L1838.3 422.1L1838.8 425.6L1839.4 426.6L1839.9 433.3L1840.5 434.1L1841.0 432.6L1841.6 429.8L1842.1 430.7L1842.7 431.4L1843.2 433.1L1843.8 430.9L1844.3 430.7L1844.9 433.4L1845.4 433.9L1846.0 435.6L1846.5 434.5L1847.1 435.7L1847.6 436.5L1848.2 433.7L1848.7 433.3L1849.3 437.1L1849.8 436.5L1850.4 437.8L1850.9 438.0L1851.5 435.1L1852.0 435.1L1852.6 437.0L1853.1 435.1L1853.7 435.5L1854.2 435.4L1854.8 430.8L1855.3 431.2L1855.9 430.9L1856.4 432.1L1857.0 433.3L1857.5 436.1L1858.1 433.5L1858.6 435.1L1859.2 435.3L1859.7 434.3L1860.3 429.8L1860.8 428.7L1861.4 427.2L1861.9 428.0L1862.5 427.4L1863.0 431.2L1863.6 428.1L1864.1 429.4L1864.7 430.5L1865.2 432.8L1865.8 436.5L1866.3 437.8L1866.9 441.1L1867.4 444.7L1868.0 445.3L1868.5 447.9L1869.1 448.7L1869.6 451.2L1870.2 449.6L1870.7 448.7L1871.3 448.8L1871.8 450.9L1872.4 451.3L1872.9 449.1L1873.5 451.4L1874.0 451.9L1874.6 449.4L1875.1 448.2L1875.7 451.8L1876.2 449.1L1876.8 452.5L1877.3 450.0L1877.9 450.7L1878.4 450.7L1879.0 449.2L1879.5 451.0L1880.1 450.3L1880.6 452.6L1881.2 451.6L1881.7 454.3L1882.3 454.5L1882.8 456.8L1883.4 456.9L1883.9 455.8L1884.5 456.5L1885.1 454.6L1885.6 456.3L1886.2 455.3L1886.7 456.1L1887.3 456.1L1887.8 455.1L1888.4 455.6L1888.9 451.1L1889.5 454.6L1890.0 452.1L1890.6 451.6L1891.1 449.9L1891.7 452.5L1892.2 455.7L1892.8 457.0L1893.3 457.7L1893.9 459.5L1894.4 459.1L1895.0 463.1L1895.5 459.5L1896.1 462.7L1896.6 463.2L1897.2 465.2L1897.7 464.9L1898.3 465.8L1898.8 466.3L1899.4 468.4L1899.9 469.1L1900.5 468.7L1901.0 471.8L1901.6 471.2L1902.1 471.6L1902.7 470.9L1903.2 472.3L1903.8 471.8L1904.3 470.7L1904.9 471.2L1905.4 470.9L1906.0 472.8L1906.5 469.3L1907.1 469.0L1907.6 448.9L1908.2 448.3L1908.7 448.0L1909.3 445.1L1909.8 446.4L1910.4 441.0L1910.9 437.2L1911.5 435.7L1912.0 432.0L1912.6 432.4L1913.1 433.2L1913.7 434.2L1914.2 433.6L1914.8 434.9L1915.3 437.3L1915.9 441.1L1916.4 442.4L1917.0 445.4L1917.5 445.8L1918.1 446.4L1918.6 451.8L1919.2 449.4L1919.7 451.7L1920.3 452.9L1920.8 452.9L1921.4 453.0L1921.9 452.4L1922.5 454.5L1923.0 453.3L1923.6 455.8L1924.1 455.8L1924.7 454.5L1925.2 456.2L1925.8 457.0L1926.3 456.7L1926.9 460.5L1927.4 458.5L1928.0 458.4L1928.5 459.1L1929.1 460.2L1929.6 452.4L1930.2 441.3L1930.7 445.6L1931.3 450.2L1931.8 449.7L1932.4 454.2L1932.9 454.0L1933.5 453.1L1934.0 454.9L1934.6 453.7L1935.1 456.1L1935.7 455.3L1936.2 456.0L1936.8 457.9L1937.3 457.9L1937.9 457.5L1938.4 457.8L1939.0 458.8L1939.5 462.2L1940.1 462.6L1940.6 460.1L1941.2 462.2L1941.7 467.5L1942.3 472.6L1942.9 454.4L1943.4 458.0L1944.0 466.1L1944.5 468.3L1945.1 466.6L1945.6 464.6L1946.2 464.4L1946.7 464.4L1947.3 462.2L1947.8 463.2L1948.4 465.2L1948.9 464.8L1949.5 463.5L1950.0 464.1L1950.6 468.1L1951.1 467.5L1951.7 471.0L1952.2 474.7L1952.8 478.5L1953.3 481.1L1953.9 486.8L1954.4 490.9L1955.0 496.4L1955.5 498.6L1956.1 501.0L1956.6 506.0L1957.2 510.0L1957.7 510.8L1958.3 515.7L1958.8 518.0L1959.4 514.8L1959.9 512.3L1960.5 508.8L1961.0 502.5L1961.6 498.9L1962.1 489.6L1962.7 484.0L1963.2 479.4L1963.8 478.2L1964.3 478.0L1964.9 474.2L1965.4 473.3L1966.0 472.7L1966.5 470.1L1967.1 469.5L1967.6 467.5L1968.2 463.0L1968.7 463.5L1969.3 459.4L1969.8 460.7L1970.4 460.5L1970.9 459.2L1971.5 459.4L1972.0 457.4L1972.6 457.8L1973.1 454.8L1973.7 454.5L1974.2 450.9L1974.8 448.3L1975.3 448.4L1975.9 442.7L1976.4 445.5L1977.0 443.1L1977.5 445.4L1978.1 445.8L1978.6 441.5L1979.2 443.7L1979.7 443.5L1980.3 442.1L1980.8 439.6L1981.4 441.1L1981.9 441.5L1982.5 440.1L1983.0 438.0L1983.6 439.1L1984.1 435.8L1984.7 435.3L1985.2 434.9L1985.8 434.5L1986.3 432.9L1986.9 439.0L1987.4 448.6L1988.0 444.9L1988.5 445.2L1989.1 447.7L1989.6 445.9L1990.2 448.2L1990.7 445.7L1991.3 441.7L1991.8 439.8L1992.4 436.2L1992.9 439.3L1993.5 441.8L1994.0 441.7L1994.6 442.0L1995.1 445.9L1995.7 443.4L1996.2 445.4L1996.8 445.0L1997.3 440.6L1997.9 441.1L1998.4 437.5L1999.0 437.5L1999.5 438.7L2000.0 436.0L2000.6 435.0L2001.2 436.2L2001.8 436.9L2002.4 439.3L2003.0 442.0L2003.6 447.6L2004.2 448.4L2004.8 443.6L2005.4 440.6L2006.0 435.5L2006.6 437.8L2007.1 435.9L2007.7 437.7L2008.3 440.2L2008.9 440.2L2009.5 445.5L2010.1 445.7L2010.7 448.7L2011.3 451.1L2011.9 450.2L2012.5 451.5L2013.1 453.5L2013.7 454.4L2014.3 453.5L2014.9 451.6L2015.5 454.3L2016.1 455.2L2016.7 455.6L2017.3 454.6L2017.9 454.4L2018.5 457.0L2019.1 456.4L2019.7 460.0L2020.3 461.1L2020.9 458.7L2021.4 462.8L2022.0 461.0L2022.6 460.4L2023.2 460.1L2023.8 461.5L2024.4 456.0L2025.0 457.6L2025.6 455.4L2026.2 451.2L2026.8 454.2L2027.4 454.0L2028.0 454.1L2028.6 454.1L2029.2 455.4L2029.8 455.4L2030.4 457.1L2031.0 455.4L2031.6 456.9L2032.2 456.9L2032.8 456.5L2033.4 458.5L2034.0 457.0L2034.6 454.3L2035.2 455.8L2035.7 454.3L2036.3 455.2L2036.9 455.1L2037.5 454.5L2038.1 456.8L2038.7 455.7L2039.3 457.6L2039.9 458.4L2040.5 456.6L2041.1 457.7L2041.7 457.1L2042.3 455.1L2042.9 454.3L2043.5 453.4L2044.1 453.8L2044.7 454.7L2045.3 460.5L2045.9 460.5L2046.5 459.9L2047.1 460.2L2047.7 461.2L2048.3 461.2L2048.9 462.6L2049.5 461.4L2050.0 461.0L2050.6 462.3L2051.2 462.7L2051.8 462.9L2052.4 462.5L2053.0 463.4L2053.6 465.6L2054.2 456.9L2054.8 452.4L2055.4 445.3L2056.2 396.7L2057.8 433.6L2058.4 434.9L2059.0 433.9L2059.6 436.0L2060.2 437.2L2060.8 436.3L2061.4 436.8L2062.0 434.1L2062.6 437.8L2063.2 438.9L2063.8 437.5L2064.3 441.2L2064.9 442.4L2065.5 443.8L2066.1 440.9L2066.7 439.2L2067.3 438.5L2067.9 437.0L2068.5 438.4L2069.1 440.4L2069.7 437.6L2070.3 438.2L2070.9 436.3L2071.5 439.0L2072.1 437.6L2072.7 437.7L2073.3 440.5L2073.9 440.3L2074.5 440.2L2075.1 441.3L2075.7 439.1L2076.3 442.1L2076.9 441.9L2077.5 442.5L2078.1 441.3L2078.6 442.0L2079.2 440.6L2079.8 442.3L2080.4 442.5L2081.0 443.0L2081.6 442.8L2082.2 443.4L2082.8 443.3L2083.4 445.4L2084.0 453.9L2084.8 437.2L2086.0 459.3L2086.5 450.3L2087.0 445.0L2087.6 445.6L2088.2 445.9L2088.8 443.4L2089.4 443.9L2090.0 446.0L2090.6 445.8L2091.2 444.6L2091.8 447.0L2092.3 445.1L2092.9 444.1L2093.5 444.8L2094.1 443.5L2094.7 445.7L2095.3 446.4L2095.9 445.5L2096.5 445.1L2097.1 443.2L2097.7 447.1L2098.3 447.0L2098.9 447.0L2099.5 447.5L2100.1 445.5L2100.7 447.4L2101.3 449.1L2101.9 449.4L2102.5 447.5L2103.1 450.2L2103.7 448.3L2104.3 449.1L2104.9 449.6L2105.5 446.5L2106.1 445.8L2106.6 447.1L2107.2 444.7L2107.8 443.9L2108.4 443.5L2109.0 445.9L2109.6 445.3L2110.2 442.4L2110.8 441.8L2111.4 441.4L2112.0 439.4L2112.6 438.6L2113.2 437.9L2113.8 437.0L2114.4 438.5L2115.0 437.5L2115.6 435.1L2116.2 434.7L2116.8 437.1L2117.4 435.4L2118.0 436.4L2118.6 435.2L2119.2 434.0L2119.8 432.0L2120.4 432.9L2120.9 431.7L2121.5 432.4L2122.1 429.6L2122.7 432.2L2123.3 431.4L2123.9 431.0L2124.5 428.2L2125.1 427.1L2125.7 428.1L2126.3 429.3L2126.9 428.6L2127.5 425.5L2128.1 424.9L2128.7 426.5L2129.3 423.1L2130.8 457.5L2132.3 426.5L2132.9 424.3L2133.5 426.2L2134.1 426.8L2134.7 427.1L2135.2 423.3L2135.8 425.6L2136.4 422.7L2137.0 424.7L2137.6 423.6L2138.2 420.6L2138.8 420.5L2139.4 420.9L2140.0 421.5L2140.6 425.1L2141.2 424.3L2141.8 426.7L2142.4 431.7L2143.0 433.8L2143.6 437.6L2144.2 437.7L2144.8 436.3L2145.4 433.8L2146.0 432.5L2146.6 433.0L2147.2 431.5L2147.8 430.8L2148.4 430.4L2149.0 431.9L2149.5 430.1L2150.1 433.0L2150.7 431.6L2151.3 432.1L2151.9 429.9L2152.5 432.7L2153.1 431.0L2153.7 430.7L2154.3 428.7L2154.9 427.0L2155.5 429.4L2156.1 429.7L2156.7 428.7L2157.3 431.9L2157.9 428.8L2158.5 432.8L2159.1 431.2L2159.7 425.7L2160.3 427.5L2160.9 425.6L2161.5 421.1L2162.1 421.6L2162.7 423.5L2163.3 420.4L2163.8 423.9L2164.4 420.6L2165.0 423.5L2165.6 422.8L2166.2 426.5L2166.8 429.6L2167.4 430.7L2168.0 431.8L2168.6 431.0L2169.2 429.9L2169.8 430.3L2170.4 429.6L2171.0 429.3L2171.6 428.4L2172.2 429.9L2172.8 432.0L2173.4 431.9L2174.0 435.8L2174.6 435.1L2175.2 436.5L2175.8 434.9L2176.4 434.8L2177.0 434.2L2177.6 431.8L2178.1 434.0L2178.7 432.0L2179.3 436.4L2179.9 436.6L2180.5 438.3L2181.1 436.6L2181.7 436.5L2182.3 439.8L2182.9 438.2L2183.5 442.1L2184.1 440.4L2184.7 443.6L2185.3 439.1L2185.9 439.1L2186.5 440.4L2187.1 436.1L2187.7 438.0L2188.3 435.6L2188.9 436.3L2189.5 434.6L2190.1 434.9L2190.7 437.7L2191.3 437.0L2191.8 434.3L2192.4 434.2L2193.0 434.3L2193.6 434.5L2194.2 434.6L2194.8 435.5L2195.4 434.3L2196.0 436.9L2196.6 432.8L2197.2 434.5L2197.8 434.8L2198.4 436.6L2199.0 436.3L2199.6 438.1L2200.2 437.1L2200.8 438.8L2201.4 442.4L2202.0 439.5L2202.6 442.6L2203.2 445.0L2203.8 445.8L2204.4 443.4L2205.0 447.7L2205.6 445.3L2206.1 443.6L2206.7 446.5L2207.3 445.1L2207.9 446.9L2208.5 443.0L2209.1 446.0L2209.7 443.5L2210.3 442.7L2210.9 443.7L2211.5 446.8L2212.1 447.8L2212.7 447.4L2213.3 447.5L2213.9 446.1L2214.5 445.3L2215.1 445.3L2215.7 443.7L2216.3 443.7L2216.9 443.8L2217.5 446.5L2218.1 446.2L2218.7 443.8L2219.3 447.2L2219.9 444.1L2220.4 446.9L2221.0 444.9L2221.6 447.4L2222.2 449.6L2222.8 449.0L2223.4 448.8L2224.0 448.7L2224.6 449.4L2225.2 447.9L2225.8 449.7L2226.4 448.9L2227.0 448.9L2227.6 446.8L2228.2 449.2L2228.8 449.9L2229.4 446.0L2230.0 447.7L2230.6 448.8L2231.2 449.3L2231.8 449.3L2232.4 447.1L2233.0 448.0L2233.6 449.3L2234.2 450.5L2234.7 446.9L2235.3 446.6L2235.9 450.4L2236.5 446.9L2237.1 447.3L2237.7 448.7L2238.3 447.3L2238.9 451.4L2239.5 447.7L2240.1 448.0L2240.7 450.0L2241.3 449.7L2241.9 451.4L2242.5 451.5L2243.1 447.4L2243.7 451.1L2244.3 446.8L2244.9 447.8L2245.5 446.8L2246.1 445.9L2246.7 444.9L2247.3 447.5L2247.9 444.8L2248.5 444.3L2249.0 446.1L2249.6 443.3L2250.2 441.6" fill="none" stroke="#000" stroke-width="3.7" stroke-linejoin="round" stroke-linecap="round"/>
</g>
<rect x="303.3" y="49.5" width="1947.1" height="1519.7" fill="none" stroke="#000" stroke-width="5.3" stroke-linejoin="round"/>
<path d="M627.8 1569.2v-28.2M952.3 1569.2v-28.2M1276.8 1569.2v-28.2M1601.4 1569.2v-28.2M1925.9 1569.2v-28.2M465.6 1569.2v-14.0M790.1 1569.2v-14.0M1114.6 1569.2v-14.0M1439.1 1569.2v-14.0M1763.6 1569.2v-14.0M2088.1 1569.2v-14.0M303.3 1265.3h28.2M303.3 961.3h28.2M303.3 657.4h28.2M303.3 353.4h28.2M303.3 1417.2h14.0M303.3 1113.3h14.0M303.3 809.4h14.0M303.3 505.4h14.0M303.3 201.5h14.0" fill="none" stroke="#000" stroke-width="5.0" stroke-linecap="round"/>
<g font-size="62" fill="#000">
<text transform="translate(303.3 1654.3) scale(1 1.015)" font-size="62" text-anchor="middle">0</text>
<text transform="translate(627.8 1654.3) scale(1 1.015)" font-size="62" text-anchor="middle">50</text>
<text transform="translate(952.3 1654.3) scale(1 1.015)" font-size="62" text-anchor="middle">100</text>
<text transform="translate(1276.8 1654.3) scale(1 1.015)" font-size="62" text-anchor="middle">150</text>
<text transform="translate(1601.4 1654.3) scale(1 1.015)" font-size="62" text-anchor="middle">200</text>
<text transform="translate(1925.9 1654.3) scale(1 1.015)" font-size="62" text-anchor="middle">250</text>
<text transform="translate(2250.4 1654.3) scale(1 1.015)" font-size="62" text-anchor="middle">300</text>
<text transform="translate(271.9 1587.0) scale(1 1.015)" font-size="62" text-anchor="end">400</text>
<text transform="translate(271.9 1283.1) scale(1 1.015)" font-size="62" text-anchor="end">600</text>
<text transform="translate(271.9 979.1) scale(1 1.015)" font-size="62" text-anchor="end">800</text>
<text transform="translate(271.9 675.2) scale(1 1.015)" font-size="62" text-anchor="end">1000</text>
<text transform="translate(271.9 371.2) scale(1 1.015)" font-size="62" text-anchor="end">1200</text>
<text transform="translate(271.9 67.3) scale(1 1.015)" font-size="62" text-anchor="end">1400</text>
</g>
<text transform="translate(1277.2 1764.8) scale(0.998 1.005)" font-size="75" text-anchor="middle">Time (hour)</text>
<text transform="translate(85.7 769.8) rotate(-90) scale(0.987 1.01)" font-size="75" text-anchor="middle">Outlet temperature (°C)</text>
<path d="M1323.0 768.4L1325.0 767.4L1328.1 779.5L1331.1 767.4L1334.1 774.4L1336.6 758.3L1340.2 769.4L1343.2 777.5L1345.7 767.4L1348.7 764.4L1350.2 773.4L1353.8 760.3L1357.3 765.4L1359.8 757.3L1362.3 761.3L1365.4 742.7L1367.4 752.3L1368.9 763.4L1371.4 757.3L1375.0 762.3L1378.5 759.3L1381.0 749.2L1382.5 758.3L1384.5 774.4L1387.6 758.3L1390.6 763.4L1393.6 758.3L1395.1 770.4L1397.6 757.3L1400.2 766.4L1402.7 758.3L1405.7 771.4L1408.7 764.4L1410.7 756.3L1413.8 776.5L1416.8 762.3L1419.3 769.4L1421.8 764.4L1424.4 767.4L1426.4 763.4L1427.9 749.2L1429.9 748.2L1432.9 760.3L1435.4 754.3L1438.5 759.3L1440.5 745.2L1442.5 753.3L1445.0 757.3L1447.5 745.2L1450.6 749.2L1452.1 758.3L1454.1 763.4L1456.1 757.3L1458.6 765.4L1460.1 780.5L1461.2 800.7L1462.2 808.7L1464.2 812.8L1465.7 818.8L1467.2 825.9L1469.2 834.9L1472.2 830.9L1473.8 834.9L1475.8 828.9L1478.3 833.9L1481.3 837.0L1484.3 839.0L1486.4 836.0L1488.9 843.0L1490.9 832.9L1494.9 828.9L1497.5 832.9L1500.0 834.9L1502.0 831.9L1504.5 836.0L1507.0 836.0L1508.5 848.1L1511.1 849.1L1513.1 833.9L1515.1 838.0L1516.6 849.1L1519.1 848.1L1521.7 857.1L1523.7 861.2L1525.7 852.1L1527.7 866.2L1530.2 870.2L1532.2 872.2L1534.8 868.2L1537.8 865.2L1542.1 859.7L1543.6 866.7L1546.1 854.6L1548.7 857.6L1550.7 842.0L1552.7 846.5L1554.7 856.6L1556.7 870.7L1558.7 859.7L1561.8 858.6L1563.3 861.7L1565.3 868.7L1566.8 858.6L1569.8 860.7L1571.3 854.6L1574.4 857.6L1575.9 870.7L1577.4 868.7L1579.4 866.7L1580.9 876.8L1582.4 860.7L1583.9 836.5L1586.0 821.3L1588.5 806.2L1590.5 808.2L1593.5 795.1L1595.5 792.1L1597.6 787.6L1599.6 801.2L1600.6 797.1L1601.8 808.2L1603.1 792.1L1604.6 781.0L1606.6 786.0L1608.1 796.1L1609.7 815.3L1611.2 826.4L1612.7 845.5L1614.2 850.6L1616.7 848.6L1617.7 844.5L1619.7 850.6L1622.3 846.5L1623.8 855.6L1625.3 866.7L1627.8 869.7L1629.8 856.6L1632.8 857.6L1634.4 866.7L1636.4 873.8L1638.4 881.8L1639.9 890.9L1641.9 879.8L1643.4 874.8L1645.4 881.8L1647.0 883.9L1648.0 894.9L1650.5 904.0L1652.5 891.9L1654.5 897.0L1656.5 884.9L1658.6 888.9L1660.1 884.9L1661.6 893.9L1664.1 899.0L1666.6 888.9L1668.6 886.9L1670.4 879.8L1672.2 898.0L1673.7 901.0L1675.7 893.9L1677.7 901.0L1680.2 892.9L1682.8 904.0L1685.8 898.0L1686.8 888.9L1688.3 898.0L1690.3 892.9L1692.3 903.0L1694.9 905.0L1697.4 908.1L1699.9 899.0L1701.4 907.0L1704.4 896.0L1706.4 907.0L1708.0 910.1L1709.5 928.2L1711.5 929.2L1714.0 921.2L1716.0 932.2L1717.5 939.3L1719.6 934.3L1721.6 921.2L1724.6 924.2L1726.6 916.1L1729.1 911.1L1731.7 910.1L1734.7 916.1L1737.7 922.2L1740.2 921.2L1742.2 912.1L1744.8 909.1L1747.8 906.0L1750.0 904.0L1750.7 908.5L1752.7 894.4L1756.2 890.3L1758.7 897.4L1761.3 906.5L1763.8 907.5L1765.3 903.4L1767.1 918.6L1768.8 910.5L1770.3 920.6L1771.8 930.7L1773.4 953.9L1775.9 955.9L1777.9 973.0L1780.4 974.0L1782.4 981.1L1785.0 989.1L1788.0 968.0L1790.5 979.1L1793.5 980.1L1797.0 974.0L1799.6 989.1L1802.6 980.1L1805.1 974.0L1807.6 985.1L1810.7 981.1L1813.7 972.0L1816.2 974.0L1818.7 996.2L1821.2 988.1L1823.3 980.1L1825.3 1001.2L1828.3 996.2L1830.8 1012.3L1832.8 1015.4L1834.9 1022.0L1835.4 1028.0L1837.0 1026.7L1838.6 1029.9L1839.9 1035.1L1840.9 1029.9L1841.5 1020.3L1842.8 1021.6L1844.1 1015.1L1845.4 1019.0L1846.3 1026.7L1847.3 1017.1L1848.9 1017.1L1849.9 1008.0L1851.2 1006.7L1852.1 1010.0L1853.1 1003.5L1854.7 1002.9L1855.7 1007.4L1856.5 991.2L1857.2 950.8L1858.6 920.6L1860.6 906.5L1863.1 880.2L1865.4 876.3L1867.4 871.8L1868.6 869.2L1870.3 867.9L1870.9 862.1L1872.5 866.6L1874.4 860.2L1876.4 859.5L1877.7 866.6L1879.3 858.2L1880.9 862.1L1882.8 869.2L1884.8 862.8L1886.7 870.5L1888.0 878.9L1889.3 880.0L1890.9 873.1L1892.2 860.2L1893.1 852.4L1894.1 848.6L1895.1 853.1L1896.3 858.9L1898.0 861.5L1899.2 859.5L1900.5 870.5L1901.5 876.9L1903.4 875.6L1905.0 866.0L1906.7 862.1L1907.9 869.2L1909.9 863.4L1911.8 858.2L1913.7 866.6L1915.7 855.7L1917.0 849.9L1918.6 857.0L1920.2 858.2L1922.8 860.2L1923.7 850.5L1925.0 847.0L1926.3 853.7L1927.3 860.2L1929.2 862.8L1930.5 868.6L1932.4 870.5L1933.7 876.3L1934.7 873.1L1935.1 865.3" fill="none" stroke="#ff7f0e" stroke-width="2.9" stroke-linejoin="round" stroke-linecap="round"/>
<path d="M1323.0 795.6L1324.0 789.6L1325.5 794.6L1327.6 784.5L1329.1 786.5L1331.1 777.5L1332.6 776.5L1334.1 768.4L1336.1 766.4L1338.1 759.3L1340.2 750.2L1342.2 757.3L1344.2 749.2L1346.2 743.2L1348.2 742.2L1349.2 737.6L1350.8 747.2L1352.8 746.2L1354.8 757.3L1356.8 763.4L1358.8 762.3L1360.3 773.4L1363.4 769.4L1365.9 765.4L1366.4 761.3L1366.9 774.4L1368.9 783.5L1371.4 787.6L1373.4 787.6L1375.0 777.5L1377.5 776.0L1379.5 777.5L1380.3 787.6L1381.5 780.5L1384.0 776.5L1386.5 779.5L1390.1 782.0L1391.6 772.9L1393.6 781.5L1396.1 785.5L1397.6 781.5L1400.7 784.5L1403.7 781.5L1406.2 775.5L1408.2 773.4L1409.7 768.4L1411.8 776.5L1413.8 784.5L1415.8 792.6L1417.3 787.6L1419.3 790.6L1420.8 782.5L1422.8 777.5L1424.4 772.4L1425.9 783.5L1427.9 776.5L1429.4 782.5L1431.9 789.6L1433.9 785.5L1436.5 788.6L1438.5 793.6L1441.0 794.6L1444.0 792.6L1446.0 790.6L1448.1 787.6L1450.1 792.6L1451.6 800.7L1453.1 797.6L1455.1 803.7L1456.6 797.6L1457.3 810.7L1457.8 840.0L1459.6 841.0L1461.2 844.0L1462.7 849.1L1464.2 843.0L1467.2 842.0L1469.7 844.0L1470.7 838.0L1472.2 843.0L1474.8 841.0L1476.8 837.0L1478.3 831.9L1479.8 841.0L1481.3 836.0L1482.3 844.0L1484.3 840.0L1486.9 849.1L1487.9 844.0L1489.6 855.1L1490.9 844.0L1492.9 846.0L1495.4 837.0L1497.5 842.0L1499.5 854.1L1501.5 849.1L1503.5 851.1L1505.7 861.2L1507.0 854.1L1509.1 852.1L1510.6 858.1L1512.6 849.1L1514.1 855.1L1515.6 850.1L1517.6 859.1L1519.1 864.2L1520.6 861.2L1522.9 872.2L1524.2 863.2L1526.7 864.2L1528.7 864.2L1530.2 871.2L1531.7 868.2L1533.8 861.2L1535.8 865.2L1537.8 866.2L1538.8 855.1L1540.6 849.6L1542.6 852.6L1544.1 850.6L1545.6 849.6L1547.6 841.5L1548.7 850.6L1550.2 852.6L1551.7 844.5L1553.2 855.6L1555.2 846.5L1556.2 852.6L1558.7 843.5L1559.7 852.6L1561.8 859.7L1563.3 855.6L1565.3 858.6L1567.8 856.6L1569.8 864.7L1571.3 853.6L1573.9 857.6L1575.4 866.7L1577.4 867.7L1579.4 876.8L1580.2 860.7L1580.4 830.4L1581.9 820.3L1583.4 821.3L1583.9 831.4L1585.5 825.4L1587.5 821.3L1589.5 826.4L1591.0 825.4L1592.5 819.3L1594.0 828.4L1595.5 830.4L1597.6 829.4L1599.6 828.4L1600.6 833.4L1602.6 837.5L1604.1 829.4L1606.1 835.5L1606.8 845.5L1607.4 865.7L1608.1 872.8L1609.1 879.8L1611.7 874.8L1613.2 880.8L1614.7 880.8L1616.2 889.9L1616.9 885.9L1617.7 901.0L1619.2 907.0L1620.7 909.1L1622.0 919.1L1622.8 926.2L1623.8 922.2L1625.8 934.3L1627.3 930.2L1629.3 924.2L1630.8 930.2L1632.3 934.3L1632.8 945.4L1634.9 944.3L1636.9 949.4L1638.9 952.0L1639.7 955.2L1641.7 944.1L1643.7 949.2L1645.4 958.2L1647.7 954.2L1648.7 949.2L1650.8 956.2L1652.8 945.1L1654.8 956.2L1656.5 947.1L1658.8 954.2L1660.3 957.2L1662.3 948.1L1664.1 942.1L1665.9 946.1L1666.9 951.2L1668.2 961.3L1669.9 954.2L1671.4 940.6L1672.9 952.2L1675.0 953.2L1676.5 948.1L1678.0 945.1L1679.5 951.2L1681.0 943.1L1683.0 953.2L1684.5 955.2L1686.5 950.2L1688.6 947.1L1689.6 957.2L1692.1 949.2L1694.6 954.2L1696.6 952.2L1697.8 948.1L1698.8 959.2L1700.2 950.2L1701.7 955.2L1703.5 967.3L1705.2 965.3L1706.7 967.3L1707.9 974.4L1709.2 968.3L1711.2 974.4L1713.3 977.4L1714.6 964.3L1716.6 979.4L1718.3 972.3L1719.8 978.4L1721.3 973.4L1723.9 971.3L1725.7 966.3L1727.4 978.4L1729.4 968.3L1729.9 978.4L1731.4 967.3L1733.4 966.3L1735.4 978.4L1737.0 971.3L1739.0 975.4L1741.0 970.3L1742.5 961.3L1743.5 977.4L1745.0 968.3L1746.0 965.3L1748.1 958.2L1749.6 962.3L1751.1 958.2L1753.1 959.2L1755.1 965.3L1757.1 959.2L1758.9 952.7L1760.1 963.3L1762.2 961.3L1764.2 966.3L1766.7 964.3L1767.7 956.7L1768.7 972.3L1770.2 981.4L1771.2 999.6L1772.8 1011.7L1774.8 1006.6L1776.3 1013.7L1778.3 1014.7L1780.3 1009.7L1781.8 1007.6L1783.3 1010.7L1784.9 1017.7L1786.4 1013.7L1787.9 1019.7L1789.4 1023.8L1791.4 1007.6L1792.4 1014.7L1793.9 1029.8L1795.9 1017.7L1797.5 1014.7L1799.0 1032.8L1801.0 1035.9L1803.0 1020.7L1804.5 1026.8L1806.5 1042.9L1808.0 1036.9L1810.6 1031.8L1812.1 1040.9L1813.1 1039.9L1813.8 1061.1L1815.6 1055.0L1816.8 1049.0L1818.6 1054.0L1820.1 1060.1L1822.7 1054.0L1824.5 1075.2L1826.2 1057.0L1827.7 1065.1L1829.2 1062.1L1831.5 1080.2L1833.2 1074.2L1835.8 1073.2L1837.3 1081.2L1838.3 1066.1L1840.0 1071.2L1840.5 1066.7L1841.7 1056.3L1842.8 1064.1L1844.1 1059.6L1845.1 1067.3L1846.3 1071.8L1847.3 1066.7L1848.0 1075.0L1849.2 1073.1L1850.5 1064.7L1851.5 1071.8L1852.8 1060.9L1853.8 1059.6L1854.7 1072.4L1855.4 1077.6L1856.0 1070.5L1856.3 990.0L1856.5 935.7L1858.1 930.7L1859.6 932.7L1860.9 920.1L1862.1 938.7L1863.6 927.6L1865.1 931.7L1866.6 924.6L1868.6 933.7L1870.7 921.6L1872.2 938.7L1873.7 942.8L1875.2 933.7L1875.7 900.4L1876.7 880.2L1877.5 874.2L1878.7 880.2L1880.2 872.2L1881.2 868.1L1882.2 856.0L1883.8 868.1L1884.8 856.0L1885.8 870.2L1887.3 859.1L1888.3 865.1L1889.3 850.0L1889.3 847.3L1890.5 846.7L1891.3 842.8L1892.2 850.5L1893.4 846.0L1894.4 844.7L1895.4 839.6L1896.0 847.3L1897.0 850.5L1898.3 851.2L1898.9 858.2L1899.9 861.5L1900.9 869.2L1902.1 869.8L1902.8 875.6L1903.4 880.0L1903.9 888.3L1905.4 899.4L1907.3 894.9L1908.5 906.5L1910.5 909.5L1911.5 916.5L1913.5 920.6L1915.0 928.6L1915.5 922.6L1917.5 938.7L1918.7 946.8L1920.4 919.6L1921.6 933.7L1923.1 943.8L1925.6 947.8L1927.1 955.9L1928.4 963.9L1929.6 955.9L1930.6 958.9L1931.5 973.0L1932.7 960.9L1934.2 955.9L1935.2 950.8" fill="none" stroke="#000" stroke-width="1.3" stroke-linejoin="round" stroke-linecap="round"/>

<rect x="1322.9" y="664.0" width="612.2" height="472.9" fill="none" stroke="#000" stroke-width="1.8"/>
<path d="M1322.9 1092.7h10M1322.9 1003.9h10M1322.9 915.1h10M1322.9 826.3h10M1322.9 737.5h10M1322.9 1048.3h5M1322.9 959.5h5M1322.9 870.7h5M1322.9 781.9h5M1322.9 693.1h5" fill="none" stroke="#000" stroke-width="1.6"/>
<g font-size="55" fill="#000">
<text transform="translate(1312.1 1110.3) scale(1 1.08)" font-size="55" text-anchor="end">1120</text>
<text transform="translate(1312.1 1021.5) scale(1 1.08)" font-size="55" text-anchor="end">1130</text>
<text transform="translate(1312.1 932.7) scale(1 1.08)" font-size="55" text-anchor="end">1140</text>
<text transform="translate(1312.1 843.9) scale(1 1.08)" font-size="55" text-anchor="end">1150</text>
<text transform="translate(1312.1 755.1) scale(1 1.08)" font-size="55" text-anchor="end">1160</text>
</g>
<rect x="1221.4" y="1265.6" width="861.3" height="190.5" fill="#fff" stroke="#000" stroke-width="1.6"/>
<path d="M1232.5 1315.5H1399.5" stroke="#ff7f0e" stroke-width="5.8" stroke-linecap="round"/>
<path d="M1232.5 1406.6H1399.5" stroke="#000" stroke-width="2.9" stroke-linecap="round"/>
<text x="1421" y="1341" font-size="75">Simulation results</text>
<text x="1421" y="1432" font-size="75">Plant measurement</text>
</svg>
</body></html>
